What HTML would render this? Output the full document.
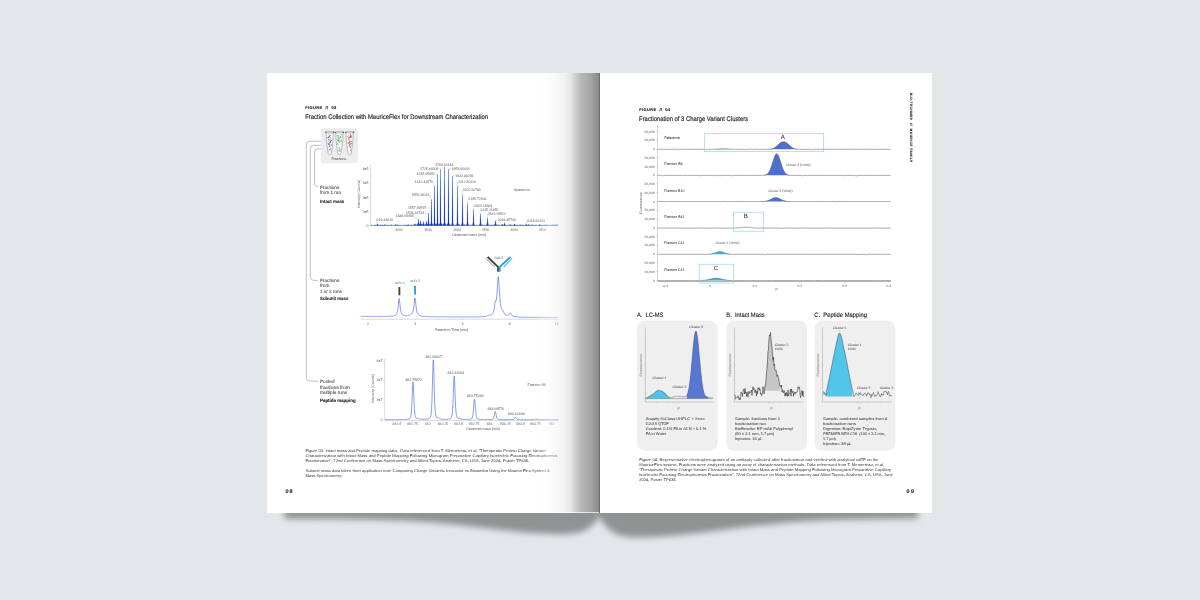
<!DOCTYPE html>
<html><head><meta charset="utf-8"><title>Spread</title>
<style>
html,body{margin:0;padding:0;background:#e4e7ea;}
body{width:1200px;height:600px;overflow:hidden;font-family:"Liberation Sans",sans-serif;}
svg{display:block;font-family:"Liberation Sans",sans-serif;}
</style></head><body>
<svg width="1200" height="600" viewBox="0 0 1200 600" text-rendering="geometricPrecision">
<g opacity="0.999">
<rect x="0" y="0" width="1200" height="600" fill="#e4e7ea"/>
<defs>
<filter id="blur" x="-10%" y="-50%" width="120%" height="200%"><feGaussianBlur stdDeviation="3"/></filter>
<linearGradient id="spine" x1="0" y1="0" x2="1" y2="0">
 <stop offset="0" stop-color="#000" stop-opacity="0.000"/>
 <stop offset="0.20" stop-color="#000" stop-opacity="0.016"/>
 <stop offset="0.40" stop-color="#000" stop-opacity="0.047"/>
 <stop offset="0.52" stop-color="#000" stop-opacity="0.106"/>
 <stop offset="0.60" stop-color="#000" stop-opacity="0.200"/>
 <stop offset="0.68" stop-color="#000" stop-opacity="0.278"/>
 <stop offset="0.85" stop-color="#000" stop-opacity="0.357"/>
 <stop offset="0.97" stop-color="#000" stop-opacity="0.451"/>
 <stop offset="1" stop-color="#000" stop-opacity="0.522"/>
</linearGradient>
</defs>
<g filter="url(#blur)" fill="#909294">
<path d="M284.5,495 L918,495 L918,518.5 C890,518.8 850,519.3 820,520.5 C780,522.5 740,527.5 700,533 C670,536.5 645,538 628,537 C614,535.5 605,528 599.3,516.5 C594,526 587,531 577,533 C562,535.5 540,534 520,532 C480,527.5 440,522 400,520.5 C350,519 300,519 284.5,519 Z"/>
</g>
<rect x="267" y="73" width="333" height="440" fill="#ffffff"/>
<rect x="600" y="73" width="332" height="440" fill="#ffffff"/>
<text x="305.30" y="108.90" font-size="4.0" fill="#1a1a1a" font-weight="bold" textLength="30.90" lengthAdjust="spacing" stroke="#1a1a1a" stroke-width="0.12">FIGURE  //  03</text>
<text x="305.20" y="118.80" font-size="6.7" fill="#1e1e1e" textLength="183.00" lengthAdjust="spacingAndGlyphs" stroke="#1e1e1e" stroke-width="0.16">Fraction Collection with MauriceFlex for Downstream Characterization</text>
<rect x="320.8" y="128.3" width="37.2" height="35" rx="3.2" fill="#ededed"/>
<path d="M326.15,132.3 L326.4,140.8 L328.09999999999997,153.60000000000002 Q329.7,156.4 331.3,153.60000000000002 L333.0,140.8 L333.25,132.3 Z" fill="#fdfdfd" stroke="#909090" stroke-width="0.6"/>
<ellipse cx="329.7" cy="132.3" rx="4.2" ry="0.85" fill="#dedede" stroke="#8a8a8a" stroke-width="0.4"/>
<ellipse cx="325.79999999999995" cy="132.3" rx="0.75" ry="0.6" fill="#555"/>
<ellipse cx="333.7" cy="132.20000000000002" rx="0.8" ry="0.65" fill="#444"/>
<path d="M328.32,140.08 l0.15,-0.60 M329.25,143.60 l-0.44,0.01 M329.43,135.32 l-0.43,-0.57 M330.89,141.75 l-0.38,-0.39 M331.06,145.12 l0.08,-0.14 M328.79,150.91 l0.36,-0.29 M328.13,137.09 l-0.19,0.44 M330.03,137.70 l0.14,-0.18 M328.27,143.79 l-0.44,-0.41 M329.49,145.99 l-0.19,0.12 M328.99,142.22 l0.29,0.28 M330.01,138.75 l0.03,0.53 M329.12,146.81 l0.48,-0.53 M330.64,141.64 l-0.35,-0.02 M330.39,135.35 l0.26,0.10 M329.27,149.23 l0.20,0.13 M329.56,144.33 l0.34,0.62 M330.27,142.57 l-0.44,0.28 M331.17,145.44 l0.32,-0.30 M330.33,141.10 l-0.48,-0.05 M328.13,137.49 l-0.44,0.38 M328.67,136.85 l-0.11,0.52 M329.49,136.04 l0.05,0.54 M330.60,148.30 l-0.22,-0.12 M331.18,140.66 l0.46,-0.49 M328.60,137.63 l-0.27,-0.02 M328.95,144.48 l-0.50,-0.11 M329.95,140.83 l0.45,0.27 M330.10,143.26 l0.18,-0.62 M330.33,149.63 l0.37,0.42 " fill="none" stroke="#4a4aae" stroke-width="0.75" stroke-linecap="round" opacity="0.85"/>
<path d="M335.84999999999997,132.3 L336.09999999999997,140.8 L337.79999999999995,153.60000000000002 Q339.4,156.4 341.0,153.60000000000002 L342.7,140.8 L342.95,132.3 Z" fill="#fdfdfd" stroke="#909090" stroke-width="0.6"/>
<ellipse cx="339.4" cy="132.3" rx="4.2" ry="0.85" fill="#dedede" stroke="#8a8a8a" stroke-width="0.4"/>
<ellipse cx="335.49999999999994" cy="132.3" rx="0.75" ry="0.6" fill="#555"/>
<ellipse cx="343.4" cy="132.20000000000002" rx="0.8" ry="0.65" fill="#444"/>
<path d="M339.02,141.21 l-0.40,0.19 M337.63,135.73 l-0.29,-0.47 M337.66,140.34 l-0.50,-0.49 M338.84,136.38 l-0.47,0.52 M338.32,144.89 l-0.25,-0.21 M337.96,140.75 l0.35,0.69 M339.34,142.44 l-0.41,-0.56 M338.49,140.39 l0.33,-0.47 M341.25,135.08 l0.03,-0.49 M337.84,143.72 l0.03,0.67 M339.86,149.03 l-0.24,-0.19 M340.51,137.47 l0.03,0.39 M338.31,140.17 l0.31,0.68 M340.13,148.85 l0.32,0.34 M339.47,138.46 l-0.14,-0.66 M338.50,135.16 l-0.24,0.27 M339.29,150.58 l0.44,0.68 M339.12,150.55 l-0.28,-0.38 M338.19,137.97 l0.12,0.56 M339.35,148.65 l0.15,0.42 M340.06,136.11 l0.41,0.40 M339.34,147.15 l-0.32,0.40 M340.58,140.22 l0.47,-0.15 M341.06,141.36 l0.22,-0.46 M337.97,136.81 l0.40,0.43 M340.74,137.13 l0.48,0.22 M339.59,140.52 l-0.37,-0.68 M339.70,150.82 l0.03,0.61 M340.75,141.90 l0.33,-0.40 M338.55,138.88 l-0.26,0.12 " fill="none" stroke="#3aa44a" stroke-width="0.75" stroke-linecap="round" opacity="0.85"/>
<path d="M346.05,132.3 L346.3,140.8 L348.0,153.60000000000002 Q349.6,156.4 351.20000000000005,153.60000000000002 L352.90000000000003,140.8 L353.15000000000003,132.3 Z" fill="#fdfdfd" stroke="#909090" stroke-width="0.6"/>
<ellipse cx="349.6" cy="132.3" rx="4.2" ry="0.85" fill="#dedede" stroke="#8a8a8a" stroke-width="0.4"/>
<ellipse cx="345.7" cy="132.3" rx="0.75" ry="0.6" fill="#555"/>
<ellipse cx="353.6" cy="132.20000000000002" rx="0.8" ry="0.65" fill="#444"/>
<path d="M349.27,139.01 l-0.37,0.57 M349.44,140.57 l0.08,0.57 M351.13,141.68 l0.00,0.04 M347.99,143.39 l-0.06,-0.44 M350.83,134.77 l-0.33,-0.04 M349.76,146.74 l-0.17,0.03 M350.53,143.92 l-0.39,0.08 M348.69,138.83 l0.27,0.01 M350.44,144.02 l0.41,-0.08 M349.62,144.87 l0.01,0.27 M349.72,142.21 l-0.02,0.62 M350.67,146.31 l0.44,-0.34 M351.04,143.99 l0.34,-0.51 M349.36,136.72 l-0.43,-0.36 M350.29,135.91 l0.28,0.56 M350.49,137.26 l0.16,-0.50 M350.67,149.36 l-0.28,0.63 M349.55,141.31 l0.49,0.47 M349.32,137.38 l0.02,-0.23 M348.86,137.95 l0.22,-0.67 M349.41,143.90 l-0.48,-0.24 M349.64,145.06 l-0.44,0.68 M350.81,147.79 l-0.40,-0.33 M350.74,135.36 l-0.23,-0.52 M351.10,141.71 l0.32,-0.34 M351.32,137.18 l0.07,0.28 M347.79,136.19 l0.19,-0.10 M351.40,135.90 l0.13,0.42 M351.06,136.09 l-0.43,0.51 M349.03,142.23 l0.05,0.60 " fill="none" stroke="#b63838" stroke-width="0.75" stroke-linecap="round" opacity="0.85"/>
<text x="338.90" y="159.60" font-size="3.5" fill="#6e6e6e" text-anchor="middle" textLength="15.00" lengthAdjust="spacingAndGlyphs" stroke="#6e6e6e" stroke-width="0.07">Fractions</text>
<g fill="none" stroke="#a4a4a4" stroke-width="0.7">
<path d="M320.8,141.3 L309.5,141.3 Q306.3,141.3 306.3,144.5 L306.3,377.6 Q306.3,381.2 310,381.2 L318.2,381.2"/>
<path d="M320.8,145.3 L313.5,145.3 Q310.3,145.3 310.3,148.5 L310.3,276.8 Q310.3,280.4 314,280.4 L317.6,280.4"/>
<path d="M320.8,148.9 L317.6,148.9 Q314.5,148.9 314.5,152 L314.5,183.4 Q314.5,186.6 317.4,186.6 L318.4,186.6"/>
</g>
<text x="320.00" y="188.70" font-size="4.7" fill="#4e4e4e" textLength="19.30" lengthAdjust="spacingAndGlyphs" stroke="#4e4e4e" stroke-width="0.1">Fractions</text>
<text x="320.00" y="193.80" font-size="4.7" fill="#4e4e4e" textLength="21.00" lengthAdjust="spacingAndGlyphs" stroke="#4e4e4e" stroke-width="0.1">from 1 run</text>
<text x="320.00" y="202.90" font-size="4.7" fill="#1c1c1c" font-weight="bold" textLength="24.30" lengthAdjust="spacingAndGlyphs" stroke="#1c1c1c" stroke-width="0.08">Intact mass</text>
<text x="320.00" y="281.90" font-size="4.7" fill="#4e4e4e" textLength="19.30" lengthAdjust="spacingAndGlyphs" stroke="#4e4e4e" stroke-width="0.1">Fractions</text>
<text x="320.00" y="287.30" font-size="4.7" fill="#4e4e4e" textLength="9.30" lengthAdjust="spacingAndGlyphs" stroke="#4e4e4e" stroke-width="0.1">from</text>
<text x="320.00" y="292.70" font-size="4.7" fill="#4e4e4e" textLength="21.80" lengthAdjust="spacingAndGlyphs" stroke="#4e4e4e" stroke-width="0.1">1 or 2 runs</text>
<text x="320.00" y="300.40" font-size="4.7" fill="#1c1c1c" font-weight="bold" textLength="28.30" lengthAdjust="spacingAndGlyphs" stroke="#1c1c1c" stroke-width="0.08">Subunit mass</text>
<text x="320.00" y="382.80" font-size="4.7" fill="#4e4e4e" textLength="14.50" lengthAdjust="spacingAndGlyphs" stroke="#4e4e4e" stroke-width="0.1">Pooled</text>
<text x="320.00" y="388.50" font-size="4.7" fill="#4e4e4e" textLength="29.80" lengthAdjust="spacingAndGlyphs" stroke="#4e4e4e" stroke-width="0.1">fractions from</text>
<text x="320.00" y="393.80" font-size="4.7" fill="#4e4e4e" textLength="27.00" lengthAdjust="spacingAndGlyphs" stroke="#4e4e4e" stroke-width="0.1">multiple runs</text>
<text x="320.00" y="401.60" font-size="4.7" fill="#1c1c1c" font-weight="bold" textLength="35.60" lengthAdjust="spacingAndGlyphs" stroke="#1c1c1c" stroke-width="0.08">Peptide mapping</text>
<defs><linearGradient id="pk" x1="0" y1="0" x2="0" y2="1"><stop offset="0" stop-color="#86a4ec"/><stop offset="0.45" stop-color="#3f63d8"/><stop offset="1" stop-color="#0f2fb8"/></linearGradient></defs>
<path d="M370.7,164.3 L370.7,225.4" stroke="#b4b4b4" stroke-width="0.5" fill="none"/>
<path d="M369.5,169.0 L370.7,169.0" stroke="#b4b4b4" stroke-width="0.4"/>
<text x="368.50" y="170.10" font-size="3.5" fill="#808080" text-anchor="end" stroke="#808080" stroke-width="0.07">8e5</text>
<path d="M369.5,183.3 L370.7,183.3" stroke="#b4b4b4" stroke-width="0.4"/>
<text x="368.50" y="184.40" font-size="3.5" fill="#808080" text-anchor="end" stroke="#808080" stroke-width="0.07">6e5</text>
<path d="M369.5,198.0 L370.7,198.0" stroke="#b4b4b4" stroke-width="0.4"/>
<text x="368.50" y="199.10" font-size="3.5" fill="#808080" text-anchor="end" stroke="#808080" stroke-width="0.07">4e5</text>
<path d="M369.5,212.0 L370.7,212.0" stroke="#b4b4b4" stroke-width="0.4"/>
<text x="368.50" y="213.10" font-size="3.5" fill="#808080" text-anchor="end" stroke="#808080" stroke-width="0.07">2e5</text>
<path d="M369.5,225.4 L370.7,225.4" stroke="#b4b4b4" stroke-width="0.4"/>
<text x="368.50" y="226.50" font-size="3.5" fill="#808080" text-anchor="end" stroke="#808080" stroke-width="0.07">0</text>
<text x="359.80" y="194.00" font-size="3.5" fill="#808080" text-anchor="middle" textLength="28.60" lengthAdjust="spacingAndGlyphs" transform="rotate(-90 359.80 194.00)" stroke="#808080" stroke-width="0.07">Intensity [Counts]</text>
<text x="399.00" y="231.40" font-size="3.5" fill="#808080" text-anchor="middle" textLength="7.60" lengthAdjust="spacingAndGlyphs" stroke="#808080" stroke-width="0.07">1000</text>
<text x="428.00" y="231.40" font-size="3.5" fill="#808080" text-anchor="middle" textLength="7.60" lengthAdjust="spacingAndGlyphs" stroke="#808080" stroke-width="0.07">1500</text>
<text x="457.00" y="231.40" font-size="3.5" fill="#808080" text-anchor="middle" textLength="7.60" lengthAdjust="spacingAndGlyphs" stroke="#808080" stroke-width="0.07">2000</text>
<text x="485.70" y="231.40" font-size="3.5" fill="#808080" text-anchor="middle" textLength="7.60" lengthAdjust="spacingAndGlyphs" stroke="#808080" stroke-width="0.07">2500</text>
<text x="514.20" y="231.40" font-size="3.5" fill="#808080" text-anchor="middle" textLength="7.60" lengthAdjust="spacingAndGlyphs" stroke="#808080" stroke-width="0.07">3000</text>
<text x="542.70" y="231.40" font-size="3.5" fill="#808080" text-anchor="middle" textLength="7.60" lengthAdjust="spacingAndGlyphs" stroke="#808080" stroke-width="0.07">3500</text>
<text x="469.00" y="235.50" font-size="3.5" fill="#808080" text-anchor="middle" textLength="34.00" lengthAdjust="spacingAndGlyphs" stroke="#808080" stroke-width="0.07">Observed mass [m/z]</text>
<text x="514.00" y="191.40" font-size="3.5" fill="#808080" textLength="15.70" lengthAdjust="spacingAndGlyphs" stroke="#808080" stroke-width="0.07">Spectrum</text>
<path d="M370.7,225.4 L370.70,225.38 L371.15,225.40 L371.60,225.27 L372.05,225.39 L372.50,225.40 L372.95,225.40 L373.40,225.40 L373.85,225.39 L374.30,225.37 L374.75,225.37 L375.20,225.01 L375.65,225.38 L376.10,225.29 L376.55,225.39 L377.00,225.36 L377.45,225.40 L377.90,225.39 L378.35,225.40 L378.80,225.05 L379.25,225.25 L379.70,225.39 L380.15,225.30 L380.60,224.67 L381.05,225.40 L381.50,224.91 L381.95,225.33 L382.40,225.29 L382.85,224.88 L383.30,225.35 L383.75,225.28 L384.20,225.11 L384.65,224.55 L385.10,225.36 L385.55,224.88 L386.00,225.08 L386.45,225.17 L386.90,225.34 L387.35,225.36 L387.80,225.40 L388.25,225.40 L388.70,225.40 L389.15,225.03 L389.60,225.38 L390.05,225.40 L390.50,225.40 L390.95,224.86 L391.40,224.81 L391.85,225.13 L392.30,225.38 L392.75,225.39 L393.20,225.38 L393.65,225.31 L394.10,225.40 L394.55,225.32 L395.00,225.38 L395.45,224.60 L395.90,224.57 L396.35,225.25 L396.80,225.39 L397.25,224.59 L397.70,225.37 L398.15,225.36 L398.60,225.40 L399.05,225.35 L399.50,225.30 L399.95,225.29 L400.40,225.39 L400.85,225.28 L401.30,225.40 L401.75,225.38 L402.20,225.40 L402.65,225.34 L403.10,225.40 L403.55,225.40 L404.00,225.37 L404.45,225.39 L404.90,225.22 L405.35,225.27 L405.80,225.02 L406.25,225.14 L406.70,225.07 L407.15,224.79 L407.60,225.35 L408.05,225.37 L408.50,224.54 L408.95,225.40 L409.40,225.06 L409.85,225.16 L410.30,225.40 L410.75,224.88 L411.20,224.76 L411.65,225.18 L412.10,225.04 L412.55,224.92 L413.00,225.40 L413.45,225.27 L413.90,225.28 L414.35,223.91 L414.80,224.19 L415.25,223.94 L415.70,224.82 L416.15,225.24 L416.60,225.23 L417.05,224.20 L417.50,224.43 L417.95,224.53 L418.40,224.44 L418.85,224.42 L419.30,224.47 L419.75,224.52 L420.20,225.30 L420.65,224.51 L421.10,224.50 L421.55,223.97 L422.00,224.77 L422.45,224.19 L422.90,224.42 L423.35,225.22 L423.80,224.49 L424.25,224.69 L424.70,225.33 L425.15,224.58 L425.60,224.29 L426.05,224.76 L426.50,224.75 L426.95,224.33 L427.40,224.22 L427.85,224.64 L428.30,224.33 L428.75,224.04 L429.20,225.13 L429.65,224.39 L430.10,225.05 L430.55,224.13 L431.00,224.41 L431.45,224.22 L431.90,224.81 L432.35,224.17 L432.80,225.40 L433.25,224.75 L433.70,225.21 L434.15,224.98 L434.60,224.86 L435.05,224.01 L435.50,224.29 L435.95,223.99 L436.40,224.93 L436.85,224.15 L437.30,224.78 L437.75,225.00 L438.20,225.28 L438.65,224.53 L439.10,224.36 L439.55,224.77 L440.00,224.95 L440.45,223.55 L440.90,224.16 L441.35,223.59 L441.80,224.39 L442.25,224.52 L442.70,224.41 L443.15,224.82 L443.60,224.29 L444.05,224.83 L444.50,225.01 L444.95,223.87 L445.40,224.60 L445.85,224.71 L446.30,225.14 L446.75,225.15 L447.20,224.13 L447.65,224.30 L448.10,223.97 L448.55,225.17 L449.00,224.99 L449.45,225.11 L449.90,224.70 L450.35,224.77 L450.80,225.02 L451.25,225.34 L451.70,225.34 L452.15,225.27 L452.60,225.35 L453.05,225.37 L453.50,225.40 L453.95,225.38 L454.40,224.58 L454.85,225.40 L455.30,225.29 L455.75,225.18 L456.20,224.82 L456.65,225.39 L457.10,225.38 L457.55,225.39 L458.00,225.34 L458.45,225.32 L458.90,224.62 L459.35,224.85 L459.80,224.80 L460.25,225.40 L460.70,225.40 L461.15,225.08 L461.60,224.75 L462.05,225.30 L462.50,225.22 L462.95,225.40 L463.40,225.35 L463.85,224.68 L464.30,224.89 L464.75,224.84 L465.20,224.57 L465.65,225.39 L466.10,225.40 L466.55,225.40 L467.00,225.27 L467.45,225.11 L467.90,224.65 L468.35,225.06 L468.80,225.16 L469.25,225.00 L469.70,225.31 L470.15,225.25 L470.60,225.40 L471.05,224.97 L471.50,225.39 L471.95,224.70 L472.40,225.16 L472.85,225.37 L473.30,225.40 L473.75,225.39 L474.20,225.17 L474.65,225.09 L475.10,225.40 L475.55,225.40 L476.00,225.27 L476.45,225.22 L476.90,225.35 L477.35,225.39 L477.80,225.20 L478.25,225.40 L478.70,225.38 L479.15,225.31 L479.60,224.61 L480.05,225.16 L480.50,224.78 L480.95,225.30 L481.40,225.39 L481.85,225.39 L482.30,224.60 L482.75,225.09 L483.20,225.37 L483.65,225.40 L484.10,225.29 L484.55,225.12 L485.00,225.33 L485.45,225.38 L485.90,225.13 L486.35,224.69 L486.80,225.39 L487.25,225.40 L487.70,225.37 L488.15,225.33 L488.60,225.11 L489.05,225.39 L489.50,224.94 L489.95,225.04 L490.40,225.28 L490.85,225.39 L491.30,224.58 L491.75,225.37 L492.20,224.90 L492.65,225.39 L493.10,225.39 L493.55,225.00 L494.00,225.38 L494.45,224.62 L494.90,225.29 L495.35,225.39 L495.80,225.39 L496.25,225.33 L496.70,225.13 L497.15,224.63 L497.60,225.40 L498.05,225.35 L498.50,225.39 L498.95,224.57 L499.40,225.40 L499.85,225.40 L500.30,225.40 L500.75,225.35 L501.20,224.75 L501.65,224.78 L502.10,225.05 L502.55,224.51 L503.00,224.67 L503.45,225.37 L503.90,225.39 L504.35,224.66 L504.80,225.03 L505.25,225.40 L505.70,225.14 L506.15,225.35 L506.60,225.35 L507.05,225.37 L507.50,225.40 L507.95,225.40 L508.40,225.38 L508.85,225.36 L509.30,224.61 L509.75,225.40 L510.20,224.59 L510.65,225.39 L511.10,225.36 L511.55,224.90 L512.00,224.90 L512.45,225.33 L512.90,225.40 L513.35,225.30 L513.80,225.35 L514.25,224.70 L514.70,225.39 L515.15,225.36 L515.60,224.75 L516.05,225.40 L516.50,225.34 L516.95,224.92 L517.40,224.99 L517.85,225.40 L518.30,225.40 L518.75,225.40 L519.20,224.70 L519.65,225.38 L520.10,225.02 L520.55,224.75 L521.00,225.36 L521.45,225.38 L521.90,224.61 L522.35,225.19 L522.80,225.38 L523.25,225.07 L523.70,225.37 L524.15,225.38 L524.60,225.40 L525.05,225.01 L525.50,224.71 L525.95,225.17 L526.40,224.64 L526.85,225.40 L527.30,225.39 L527.75,225.30 L528.20,224.61 L528.65,224.62 L529.10,225.35 L529.55,225.39 L530.00,225.33 L530.45,225.29 L530.90,224.68 L531.35,225.39 L531.80,224.93 L532.25,225.04 L532.70,224.90 L533.15,224.98 L533.60,225.20 L534.05,225.37 L534.50,225.37 L534.95,225.36 L535.40,224.97 L535.85,225.40 L536.30,225.39 L536.75,225.02 L537.20,225.39 L537.65,225.40 L538.10,225.40 L538.55,225.25 L539.00,225.37 L539.45,224.55 L539.90,224.78 L540.35,224.53 L540.80,225.38 L541.25,225.40 L541.70,225.40 L542.15,225.29 L542.60,225.08 L543.05,225.32 L543.50,225.39 L543.95,225.33 L544.40,225.19 L544.85,225.12 L545.30,225.02 L545.75,224.85 L546.20,225.14 L546.65,225.40 L547.10,224.86 L547.55,225.38 L548.00,225.24 L548.45,225.35 L548.90,225.04 L549.35,225.39 L549.80,225.39 L550.25,225.39 L550.70,225.40 L551.15,224.78 L551.60,225.23 L552.05,225.37 L552.50,225.34 L552.95,224.52 L553.40,225.28 L553.85,225.39 L554.30,224.92 L554.75,225.15 L555.20,224.52 L555.65,225.40 L556.10,225.30 L556.55,224.91 L557.00,224.87 L557.45,224.71 L557.90,225.40 L558,225.4 Z" fill="#1f42c4" stroke="#1f42c4" stroke-width="0.35"/>
<path d="M417.42,225.4 L417.90,222.40 L418.00,219.00 L419.00,219.00 L419.10,222.40 L419.58,225.4 Z" fill="url(#pk)"/>
<path d="M419.54,225.4 L419.90,222.95 L420.00,220.50 L421.00,220.50 L421.10,222.95 L421.46,225.4 Z" fill="url(#pk)"/>
<path d="M422.54,225.4 L422.90,223.45 L423.00,221.50 L424.00,221.50 L424.10,223.45 L424.46,225.4 Z" fill="url(#pk)"/>
<path d="M425.54,225.4 L425.90,223.20 L426.00,221.00 L427.00,221.00 L427.10,223.20 L427.46,225.4 Z" fill="url(#pk)"/>
<path d="M427.54,225.4 L427.90,222.40 L428.00,213.00 L429.00,213.00 L429.10,222.40 L429.46,225.4 Z" fill="url(#pk)"/>
<path d="M430.36,225.4 L430.90,222.40 L431.00,199.30 L432.00,199.30 L432.10,222.40 L432.64,225.4 Z" fill="url(#pk)"/>
<path d="M433.30,225.4 L433.90,222.40 L434.00,186.00 L435.00,186.00 L435.10,222.40 L435.70,225.4 Z" fill="url(#pk)"/>
<path d="M436.30,225.4 L436.90,222.40 L437.00,174.30 L438.00,174.30 L438.10,222.40 L438.70,225.4 Z" fill="url(#pk)"/>
<path d="M439.30,225.4 L439.90,222.40 L440.00,169.00 L441.00,169.00 L441.10,222.40 L441.70,225.4 Z" fill="url(#pk)"/>
<path d="M443.24,225.4 L443.90,222.40 L444.00,166.70 L445.00,166.70 L445.10,222.40 L445.76,225.4 Z" fill="url(#pk)"/>
<path d="M447.24,225.4 L447.90,222.40 L448.00,169.00 L449.00,169.00 L449.10,222.40 L449.76,225.4 Z" fill="url(#pk)"/>
<path d="M451.36,225.4 L451.90,222.40 L452.00,176.00 L453.00,176.00 L453.10,222.40 L453.64,225.4 Z" fill="url(#pk)"/>
<path d="M456.36,225.4 L456.90,222.40 L457.00,186.00 L458.00,186.00 L458.10,222.40 L458.64,225.4 Z" fill="url(#pk)"/>
<path d="M461.36,225.4 L461.90,222.40 L462.00,194.70 L463.00,194.70 L463.10,222.40 L463.64,225.4 Z" fill="url(#pk)"/>
<path d="M466.42,225.4 L466.90,222.40 L467.00,203.00 L468.00,203.00 L468.10,222.40 L468.58,225.4 Z" fill="url(#pk)"/>
<path d="M472.42,225.4 L472.90,222.40 L473.00,209.40 L474.00,209.40 L474.10,222.40 L474.58,225.4 Z" fill="url(#pk)"/>
<path d="M479.48,225.4 L479.90,222.40 L480.00,213.70 L481.00,213.70 L481.10,222.40 L481.52,225.4 Z" fill="url(#pk)"/>
<path d="M486.48,225.4 L486.90,222.40 L487.00,217.70 L488.00,217.70 L488.10,222.40 L488.52,225.4 Z" fill="url(#pk)"/>
<path d="M494.48,225.4 L494.90,223.00 L495.00,220.60 L496.00,220.60 L496.10,223.00 L496.52,225.4 Z" fill="url(#pk)"/>
<path d="M503.54,225.4 L503.90,224.10 L504.00,222.80 L505.00,222.80 L505.10,224.10 L505.46,225.4 Z" fill="url(#pk)"/>
<path d="M513.54,225.4 L513.90,224.65 L514.00,223.90 L515.00,223.90 L515.10,224.65 L515.46,225.4 Z" fill="url(#pk)"/>
<path d="M525.54,225.4 L525.90,224.80 L526.00,224.20 L527.00,224.20 L527.10,224.80 L527.46,225.4 Z" fill="url(#pk)"/>
<path d="M538.66,225.4 L538.90,225.00 L539.00,224.60 L540.00,224.60 L540.10,225.00 L540.34,225.4 Z" fill="url(#pk)"/>
<path d="M553.66,225.4 L553.90,225.10 L554.00,224.80 L555.00,224.80 L555.10,225.10 L555.34,225.4 Z" fill="url(#pk)"/>
<path d="M376.78,225.4 L376.90,224.45 L377.00,223.50 L378.00,223.50 L378.10,224.45 L378.22,225.4 Z" fill="url(#pk)"/>
<text x="444.30" y="166.10" font-size="3.5" fill="#808080" text-anchor="middle" textLength="18.20" lengthAdjust="spacingAndGlyphs" stroke="#808080" stroke-width="0.07">1789.32148</text>
<text x="438.30" y="169.80" font-size="3.5" fill="#808080" text-anchor="end" textLength="18.20" lengthAdjust="spacingAndGlyphs" stroke="#808080" stroke-width="0.07">1725.44009</text>
<path d="M438.6,168.7 L440.4,168.9" stroke="#a8a8a8" stroke-width="0.35" fill="none"/>
<text x="451.70" y="169.80" font-size="3.5" fill="#808080" textLength="18.20" lengthAdjust="spacingAndGlyphs" stroke="#808080" stroke-width="0.07">1858.06641</text>
<path d="M451.4,168.7 L448.6,168.9" stroke="#a8a8a8" stroke-width="0.35" fill="none"/>
<text x="435.00" y="175.10" font-size="3.5" fill="#808080" text-anchor="end" textLength="18.20" lengthAdjust="spacingAndGlyphs" stroke="#808080" stroke-width="0.07">1665.95856</text>
<path d="M435.3,174.0 L437.1,174.2" stroke="#a8a8a8" stroke-width="0.35" fill="none"/>
<text x="455.30" y="177.10" font-size="3.5" fill="#808080" textLength="18.20" lengthAdjust="spacingAndGlyphs" stroke="#808080" stroke-width="0.07">1932.33209</text>
<path d="M455.0,176.0 L452.9,176.0" stroke="#a8a8a8" stroke-width="0.35" fill="none"/>
<text x="433.00" y="183.40" font-size="3.5" fill="#808080" text-anchor="end" textLength="18.20" lengthAdjust="spacingAndGlyphs" stroke="#808080" stroke-width="0.07">1610.42570</text>
<path d="M433.3,182.3 L434.0,186.0" stroke="#a8a8a8" stroke-width="0.35" fill="none"/>
<text x="458.00" y="182.80" font-size="3.5" fill="#808080" textLength="18.20" lengthAdjust="spacingAndGlyphs" stroke="#808080" stroke-width="0.07">2012.80620</text>
<path d="M457.7,181.7 L457.5,186.0" stroke="#a8a8a8" stroke-width="0.35" fill="none"/>
<text x="429.70" y="196.10" font-size="3.5" fill="#808080" text-anchor="end" textLength="18.20" lengthAdjust="spacingAndGlyphs" stroke="#808080" stroke-width="0.07">1558.48241</text>
<path d="M430.0,195.0 L431.0,199.3" stroke="#a8a8a8" stroke-width="0.35" fill="none"/>
<text x="462.70" y="191.40" font-size="3.5" fill="#808080" textLength="18.20" lengthAdjust="spacingAndGlyphs" stroke="#808080" stroke-width="0.07">2100.26736</text>
<path d="M462.4,190.3 L462.1,194.7" stroke="#a8a8a8" stroke-width="0.35" fill="none"/>
<text x="468.30" y="199.70" font-size="3.5" fill="#808080" textLength="18.20" lengthAdjust="spacingAndGlyphs" stroke="#808080" stroke-width="0.07">2195.72803</text>
<path d="M468.0,198.6 L467.8,203.0" stroke="#a8a8a8" stroke-width="0.35" fill="none"/>
<text x="474.00" y="206.50" font-size="3.5" fill="#808080" textLength="18.20" lengthAdjust="spacingAndGlyphs" stroke="#808080" stroke-width="0.07">2300.23969</text>
<path d="M473.7,205.4 L473.5,209.4" stroke="#a8a8a8" stroke-width="0.35" fill="none"/>
<text x="480.30" y="210.80" font-size="3.5" fill="#808080" textLength="18.20" lengthAdjust="spacingAndGlyphs" stroke="#808080" stroke-width="0.07">2415.21850</text>
<path d="M480.0,209.7 L480.3,213.7" stroke="#a8a8a8" stroke-width="0.35" fill="none"/>
<text x="487.70" y="214.80" font-size="3.5" fill="#808080" textLength="18.20" lengthAdjust="spacingAndGlyphs" stroke="#808080" stroke-width="0.07">2542.19512</text>
<path d="M487.4,213.7 L487.4,217.7" stroke="#a8a8a8" stroke-width="0.35" fill="none"/>
<text x="497.70" y="221.40" font-size="3.5" fill="#808080" textLength="18.20" lengthAdjust="spacingAndGlyphs" stroke="#808080" stroke-width="0.07">2683.45743</text>
<path d="M497.4,220.3 L495.6,220.6" stroke="#a8a8a8" stroke-width="0.35" fill="none"/>
<text x="527.00" y="221.80" font-size="3.5" fill="#808080" textLength="18.20" lengthAdjust="spacingAndGlyphs" stroke="#808080" stroke-width="0.07">3218.94693</text>
<path d="M526.7,220.7 L526.4,224.0" stroke="#a8a8a8" stroke-width="0.35" fill="none"/>
<text x="426.30" y="209.10" font-size="3.5" fill="#808080" text-anchor="end" textLength="18.20" lengthAdjust="spacingAndGlyphs" stroke="#808080" stroke-width="0.07">1557.99797</text>
<path d="M426.6,208.0 L430.4,208.0" stroke="#a8a8a8" stroke-width="0.35" fill="none"/>
<text x="424.30" y="213.70" font-size="3.5" fill="#808080" text-anchor="end" textLength="18.20" lengthAdjust="spacingAndGlyphs" stroke="#808080" stroke-width="0.07">1506.36734</text>
<path d="M424.6,212.6 L428.0,214.5" stroke="#a8a8a8" stroke-width="0.35" fill="none"/>
<text x="413.70" y="217.40" font-size="3.5" fill="#808080" text-anchor="end" textLength="18.20" lengthAdjust="spacingAndGlyphs" stroke="#808080" stroke-width="0.07">1338.09495</text>
<path d="M414.0,216.3 L418.0,219.5" stroke="#a8a8a8" stroke-width="0.35" fill="none"/>
<text x="376.60" y="221.40" font-size="3.5" fill="#808080" textLength="16.60" lengthAdjust="spacingAndGlyphs" stroke="#808080" stroke-width="0.07">619.44010</text>
<path d="M376.3,220.3 L377.0,223.6" stroke="#a8a8a8" stroke-width="0.35" fill="none"/>
<path d="M360.8,319.2 L557.5,319.2" stroke="#b4b4b4" stroke-width="0.5"/>
<path d="M368.00,319.2 L368.00,320.4" stroke="#b4b4b4" stroke-width="0.4"/>
<path d="M379.82,319.2 L379.82,319.9" stroke="#b4b4b4" stroke-width="0.4"/>
<path d="M391.64,319.2 L391.64,319.9" stroke="#b4b4b4" stroke-width="0.4"/>
<path d="M403.46,319.2 L403.46,319.9" stroke="#b4b4b4" stroke-width="0.4"/>
<path d="M415.28,319.2 L415.28,320.4" stroke="#b4b4b4" stroke-width="0.4"/>
<path d="M427.10,319.2 L427.10,319.9" stroke="#b4b4b4" stroke-width="0.4"/>
<path d="M438.92,319.2 L438.92,319.9" stroke="#b4b4b4" stroke-width="0.4"/>
<path d="M450.74,319.2 L450.74,319.9" stroke="#b4b4b4" stroke-width="0.4"/>
<path d="M462.56,319.2 L462.56,320.4" stroke="#b4b4b4" stroke-width="0.4"/>
<path d="M474.38,319.2 L474.38,319.9" stroke="#b4b4b4" stroke-width="0.4"/>
<path d="M486.20,319.2 L486.20,319.9" stroke="#b4b4b4" stroke-width="0.4"/>
<path d="M498.02,319.2 L498.02,319.9" stroke="#b4b4b4" stroke-width="0.4"/>
<path d="M509.84,319.2 L509.84,320.4" stroke="#b4b4b4" stroke-width="0.4"/>
<path d="M521.66,319.2 L521.66,319.9" stroke="#b4b4b4" stroke-width="0.4"/>
<path d="M533.48,319.2 L533.48,319.9" stroke="#b4b4b4" stroke-width="0.4"/>
<path d="M545.30,319.2 L545.30,319.9" stroke="#b4b4b4" stroke-width="0.4"/>
<path d="M557.12,319.2 L557.12,320.4" stroke="#b4b4b4" stroke-width="0.4"/>
<text x="368.00" y="324.90" font-size="3.5" fill="#808080" text-anchor="middle" stroke="#808080" stroke-width="0.07">2</text>
<text x="415.30" y="324.90" font-size="3.5" fill="#808080" text-anchor="middle" stroke="#808080" stroke-width="0.07">4</text>
<text x="462.80" y="324.90" font-size="3.5" fill="#808080" text-anchor="middle" stroke="#808080" stroke-width="0.07">6</text>
<text x="509.80" y="324.90" font-size="3.5" fill="#808080" text-anchor="middle" stroke="#808080" stroke-width="0.07">8</text>
<text x="556.80" y="324.90" font-size="3.5" fill="#808080" text-anchor="middle" stroke="#808080" stroke-width="0.07">10</text>
<text x="451.50" y="330.60" font-size="3.5" fill="#808080" text-anchor="middle" textLength="33.00" lengthAdjust="spacingAndGlyphs" stroke="#808080" stroke-width="0.07">Retention Time [min]</text>
<path d="M360.80,316.29 L361.20,316.24 L361.60,316.26 L362.00,316.35 L362.40,316.45 L362.80,316.52 L363.20,316.51 L363.60,316.43 L364.00,316.33 L364.40,316.26 L364.80,316.26 L365.20,316.34 L365.60,316.44 L366.00,316.52 L366.40,316.53 L366.80,316.47 L367.20,316.37 L367.60,316.28 L368.00,316.27 L368.40,316.33 L368.80,316.43 L369.20,316.52 L369.60,316.55 L370.00,316.50 L370.40,316.41 L370.80,316.31 L371.20,316.28 L371.60,316.32 L372.00,316.41 L372.40,316.51 L372.80,316.56 L373.20,316.53 L373.60,316.45 L374.00,316.35 L374.40,316.29 L374.80,316.31 L375.20,316.39 L375.60,316.50 L376.00,316.56 L376.40,316.56 L376.80,316.48 L377.20,316.38 L377.60,316.30 L378.00,316.30 L378.40,316.37 L378.80,316.47 L379.20,316.55 L379.60,316.57 L380.00,316.51 L380.40,316.41 L380.80,316.32 L381.20,316.29 L381.60,316.34 L382.00,316.44 L382.40,316.53 L382.80,316.56 L383.20,316.52 L383.60,316.42 L384.00,316.32 L384.40,316.28 L384.80,316.30 L385.20,316.39 L385.60,316.49 L386.00,316.54 L386.40,316.51 L386.80,316.41 L387.20,316.30 L387.60,316.23 L388.00,316.24 L388.40,316.31 L388.80,316.40 L389.20,316.45 L389.60,316.44 L390.00,316.35 L390.40,316.22 L390.80,316.12 L391.20,316.08 L391.60,316.12 L392.00,316.18 L392.40,316.22 L392.80,316.19 L393.20,316.07 L393.60,315.89 L394.00,315.70 L394.40,315.55 L394.80,315.45 L395.20,315.35 L395.60,315.19 L396.00,314.89 L396.40,314.37 L396.80,313.59 L397.20,312.48 L397.60,310.87 L398.00,308.47 L398.40,304.92 L398.80,300.61 L399.20,298.35 L399.60,300.65 L400.00,304.96 L400.40,308.50 L400.80,310.85 L401.20,312.41 L401.60,313.49 L402.00,314.27 L402.40,314.81 L402.80,315.15 L403.20,315.32 L403.60,315.40 L404.00,315.45 L404.40,315.54 L404.80,315.67 L405.20,315.83 L405.60,315.95 L406.00,316.00 L406.40,315.95 L406.80,315.85 L407.20,315.73 L407.60,315.66 L408.00,315.63 L408.40,315.64 L408.80,315.61 L409.20,315.47 L409.60,315.18 L410.00,314.75 L410.40,314.25 L410.80,313.88 L411.20,313.76 L411.60,313.75 L412.00,313.61 L412.40,313.18 L412.80,312.32 L413.20,310.90 L413.60,308.71 L414.00,305.52 L414.40,301.44 L414.80,298.03 L415.20,298.16 L415.60,301.76 L416.00,305.90 L416.40,309.02 L416.80,311.07 L417.20,312.43 L417.60,313.39 L418.00,314.13 L418.40,314.72 L418.80,315.17 L419.20,315.48 L419.60,315.65 L420.00,315.72 L420.40,315.76 L420.80,315.83 L421.20,315.96 L421.60,316.13 L422.00,316.29 L422.40,316.40 L422.80,316.42 L423.20,316.37 L423.60,316.31 L424.00,316.28 L424.40,316.33 L424.80,316.44 L425.20,316.56 L425.60,316.65 L426.00,316.66 L426.40,316.60 L426.80,316.52 L427.20,316.46 L427.60,316.47 L428.00,316.55 L428.40,316.66 L428.80,316.75 L429.20,316.78 L429.60,316.73 L430.00,316.64 L430.40,316.56 L430.80,316.54 L431.20,316.60 L431.60,316.71 L432.00,316.81 L432.40,316.85 L432.80,316.81 L433.20,316.72 L433.60,316.63 L434.00,316.59 L434.40,316.63 L434.80,316.73 L435.20,316.83 L435.60,316.89 L436.00,316.87 L436.40,316.79 L436.80,316.69 L437.20,316.64 L437.60,316.65 L438.00,316.73 L438.40,316.84 L438.80,316.92 L439.20,316.92 L439.60,316.85 L440.00,316.75 L440.40,316.68 L440.80,316.67 L441.20,316.74 L441.60,316.84 L442.00,316.93 L442.40,316.96 L442.80,316.90 L443.20,316.81 L443.60,316.72 L444.00,316.69 L444.40,316.74 L444.80,316.84 L445.20,316.94 L445.60,316.98 L446.00,316.95 L446.40,316.86 L446.80,316.76 L447.20,316.71 L447.60,316.74 L448.00,316.83 L448.40,316.94 L448.80,317.00 L449.20,316.99 L449.60,316.91 L450.00,316.80 L450.40,316.74 L450.80,316.75 L451.20,316.83 L451.60,316.93 L452.00,317.01 L452.40,317.02 L452.80,316.95 L453.20,316.85 L453.60,316.77 L454.00,316.75 L454.40,316.82 L454.80,316.92 L455.20,317.01 L455.60,317.04 L456.00,316.99 L456.40,316.89 L456.80,316.80 L457.20,316.77 L457.60,316.81 L458.00,316.91 L458.40,317.00 L458.80,317.05 L459.20,317.02 L459.60,316.93 L460.00,316.83 L460.40,316.78 L460.80,316.80 L461.20,316.89 L461.60,316.99 L462.00,317.06 L462.40,317.05 L462.80,316.97 L463.20,316.86 L463.60,316.79 L464.00,316.80 L464.40,316.87 L464.80,316.97 L465.20,317.05 L465.60,317.06 L466.00,317.00 L466.40,316.90 L466.80,316.81 L467.20,316.79 L467.60,316.84 L468.00,316.94 L468.40,317.04 L468.80,317.07 L469.20,317.02 L469.60,316.92 L470.00,316.82 L470.40,316.78 L470.80,316.82 L471.20,316.91 L471.60,317.01 L472.00,317.05 L472.40,317.03 L472.80,316.94 L473.20,316.83 L473.60,316.77 L474.00,316.78 L474.40,316.86 L474.80,316.96 L475.20,317.02 L475.60,317.01 L476.00,316.93 L476.40,316.82 L476.80,316.74 L477.20,316.73 L477.60,316.79 L478.00,316.89 L478.40,316.96 L478.80,316.97 L479.20,316.90 L479.60,316.79 L480.00,316.69 L480.40,316.65 L480.80,316.68 L481.20,316.77 L481.60,316.84 L482.00,316.86 L482.40,316.80 L482.80,316.68 L483.20,316.56 L483.60,316.48 L484.00,316.48 L484.40,316.53 L484.80,316.59 L485.20,316.60 L485.60,316.52 L486.00,316.36 L486.40,316.17 L486.80,316.00 L487.20,315.87 L487.60,315.78 L488.00,315.68 L488.40,315.52 L488.80,315.33 L489.20,315.16 L489.60,315.05 L490.00,314.99 L490.40,314.97 L490.80,314.96 L491.20,314.93 L491.60,314.81 L492.00,314.54 L492.40,314.10 L492.80,313.48 L493.20,312.68 L493.60,311.61 L494.00,310.09 L494.40,307.69 L494.80,304.08 L495.20,301.00 L495.60,300.99 L496.00,301.17 L496.40,299.44 L496.80,295.75 L497.20,290.25 L497.60,283.61 L498.00,277.99 L498.40,276.71 L498.80,280.82 L499.20,287.62 L499.60,294.20 L500.00,299.40 L500.40,303.22 L500.80,305.95 L501.20,307.84 L501.60,309.03 L502.00,309.64 L502.40,309.89 L502.80,310.21 L503.20,310.93 L503.60,311.90 L504.00,312.86 L504.40,313.67 L504.80,314.28 L505.20,314.69 L505.60,314.92 L506.00,315.03 L506.40,315.07 L506.80,315.12 L507.20,315.18 L507.60,315.24 L508.00,315.22 L508.40,315.05 L508.80,314.69 L509.20,314.13 L509.60,313.48 L510.00,312.97 L510.40,312.92 L510.80,313.40 L511.20,314.14 L511.60,314.83 L512.00,315.34 L512.40,315.65 L512.80,315.84 L513.20,315.99 L513.60,316.16 L514.00,316.36 L514.40,316.57 L514.80,316.74 L515.20,316.82 L515.60,316.82 L516.00,316.77 L516.40,316.72 L516.80,316.74 L517.20,316.83 L517.60,316.96 L518.00,317.08 L518.40,317.14 L518.80,317.11 L519.20,317.04 L519.60,316.96 L520.00,316.94 L520.40,316.99 L520.80,317.10 L521.20,317.21 L521.60,317.27 L522.00,317.26 L522.40,317.18 L522.80,317.09 L523.20,317.05 L523.60,317.07 L524.00,317.16 L524.40,317.27 L524.80,317.35 L525.20,317.36 L525.60,317.29 L526.00,317.19 L526.40,317.12 L526.80,317.13 L527.20,317.20 L527.60,317.31 L528.00,317.40 L528.40,317.42 L528.80,317.37 L529.20,317.27 L529.60,317.19 L530.00,317.17 L530.40,317.23 L530.80,317.33 L531.20,317.43 L531.60,317.47 L532.00,317.44 L532.40,317.35 L532.80,317.25 L533.20,317.21 L533.60,317.25 L534.00,317.34 L534.40,317.45 L534.80,317.51 L535.20,317.49 L535.60,317.41 L536.00,317.31 L536.40,317.25 L536.80,317.27 L537.20,317.35 L537.60,317.46 L538.00,317.53 L538.40,317.54 L538.80,317.47 L539.20,317.37 L539.60,317.30 L540.00,317.29 L540.40,317.36 L540.80,317.46 L541.20,317.55 L541.60,317.58 L542.00,317.53 L542.40,317.43 L542.80,317.34 L543.20,317.31 L543.60,317.36 L544.00,317.46 L544.40,317.56 L544.80,317.61 L545.20,317.57 L545.60,317.49 L546.00,317.39 L546.40,317.34 L546.80,317.37 L547.20,317.46 L547.60,317.57 L548.00,317.63 L548.40,317.62 L548.80,317.54 L549.20,317.44 L549.60,317.37 L550.00,317.38 L550.40,317.46 L550.80,317.57 L551.20,317.64 L551.60,317.65 L552.00,317.59 L552.40,317.49 L552.80,317.41 L553.20,317.40 L553.60,317.46 L554.00,317.56 L554.40,317.65 L554.80,317.68 L555.20,317.64 L555.60,317.54 L556.00,317.45 L556.40,317.42 L556.80,317.46 L557.20,317.56" fill="none" stroke="#4a6cdc" stroke-width="0.66" stroke-linejoin="round"/>
<rect x="398.5" y="287.0" width="1.8" height="8.3" fill="#3c3c3c"/>
<rect x="414.1" y="285.8" width="1.8" height="8.9" fill="#1c9fe2"/>
<text x="400.00" y="283.50" font-size="3.3" fill="#808080" text-anchor="middle" textLength="9.60" lengthAdjust="spacingAndGlyphs" stroke="#808080" stroke-width="0.07">scFc 1</text>
<text x="415.20" y="282.30" font-size="3.3" fill="#808080" text-anchor="middle" textLength="9.60" lengthAdjust="spacingAndGlyphs" stroke="#808080" stroke-width="0.07">scFc 2</text>
<g fill="none" stroke-linecap="butt">
<path d="M487.6,256.9 L498.0,266.8 L498.0,271.8" stroke="#3c3c3c" stroke-width="1.7" stroke-linejoin="miter"/>
<path d="M510.4,256.9 L499.7,266.8 L499.7,271.8" stroke="#1c9fe2" stroke-width="1.7" stroke-linejoin="miter"/>
<path d="M486.2,258.4 L494.5,266.7" stroke="#9a9a9a" stroke-width="1.3"/>
<path d="M486.2,258.4 L494.5,266.7" stroke="#f2f2f2" stroke-width="0.6"/>
<path d="M512.1,258.4 L503.8,266.7" stroke="#36aee8" stroke-width="1.3"/>
<path d="M512.1,258.4 L503.8,266.7" stroke="#eef8fd" stroke-width="0.6"/>
</g>
<text x="498.80" y="259.30" font-size="3.3" fill="#808080" text-anchor="middle" textLength="8.60" lengthAdjust="spacingAndGlyphs" stroke="#808080" stroke-width="0.07">Fab'2</text>
<path d="M384.7,359.2 L384.7,420.3 L558.3,420.3" stroke="#b4b4b4" stroke-width="0.5" fill="none"/>
<path d="M383.5,361.3 L384.7,361.3" stroke="#b4b4b4" stroke-width="0.4"/>
<text x="382.40" y="362.40" font-size="3.5" fill="#808080" text-anchor="end" stroke="#808080" stroke-width="0.07">3e7</text>
<path d="M383.5,380.3 L384.7,380.3" stroke="#b4b4b4" stroke-width="0.4"/>
<text x="382.40" y="381.40" font-size="3.5" fill="#808080" text-anchor="end" stroke="#808080" stroke-width="0.07">2e7</text>
<path d="M383.5,400.0 L384.7,400.0" stroke="#b4b4b4" stroke-width="0.4"/>
<text x="382.40" y="401.10" font-size="3.5" fill="#808080" text-anchor="end" stroke="#808080" stroke-width="0.07">1e7</text>
<path d="M383.5,419.7 L384.7,419.7" stroke="#b4b4b4" stroke-width="0.4"/>
<text x="382.40" y="420.80" font-size="3.5" fill="#808080" text-anchor="end" stroke="#808080" stroke-width="0.07">0</text>
<text x="373.60" y="388.50" font-size="3.5" fill="#808080" text-anchor="middle" textLength="29.00" lengthAdjust="spacingAndGlyphs" transform="rotate(-90 373.60 388.50)" stroke="#808080" stroke-width="0.07">Intensity [Counts]</text>
<path d="M397.0,420.3 L397.0,421.3" stroke="#b4b4b4" stroke-width="0.4"/>
<text x="397.00" y="425.40" font-size="3.5" fill="#8c8c8c" text-anchor="middle" textLength="8.80" lengthAdjust="spacingAndGlyphs" stroke="#8c8c8c" stroke-width="0.07">881.5</text>
<path d="M412.5,420.3 L412.5,421.3" stroke="#b4b4b4" stroke-width="0.4"/>
<text x="412.50" y="425.40" font-size="3.5" fill="#8c8c8c" text-anchor="middle" textLength="10.60" lengthAdjust="spacingAndGlyphs" stroke="#8c8c8c" stroke-width="0.07">881.75</text>
<path d="M427.8,420.3 L427.8,421.3" stroke="#b4b4b4" stroke-width="0.4"/>
<text x="427.80" y="425.40" font-size="3.5" fill="#8c8c8c" text-anchor="middle" textLength="5.60" lengthAdjust="spacingAndGlyphs" stroke="#8c8c8c" stroke-width="0.07">882</text>
<path d="M443.0,420.3 L443.0,421.3" stroke="#b4b4b4" stroke-width="0.4"/>
<text x="443.00" y="425.40" font-size="3.5" fill="#8c8c8c" text-anchor="middle" textLength="10.60" lengthAdjust="spacingAndGlyphs" stroke="#8c8c8c" stroke-width="0.07">882.25</text>
<path d="M458.7,420.3 L458.7,421.3" stroke="#b4b4b4" stroke-width="0.4"/>
<text x="458.70" y="425.40" font-size="3.5" fill="#8c8c8c" text-anchor="middle" textLength="8.80" lengthAdjust="spacingAndGlyphs" stroke="#8c8c8c" stroke-width="0.07">882.5</text>
<path d="M474.2,420.3 L474.2,421.3" stroke="#b4b4b4" stroke-width="0.4"/>
<text x="474.20" y="425.40" font-size="3.5" fill="#8c8c8c" text-anchor="middle" textLength="10.60" lengthAdjust="spacingAndGlyphs" stroke="#8c8c8c" stroke-width="0.07">882.75</text>
<path d="M489.5,420.3 L489.5,421.3" stroke="#b4b4b4" stroke-width="0.4"/>
<text x="489.50" y="425.40" font-size="3.5" fill="#8c8c8c" text-anchor="middle" textLength="5.60" lengthAdjust="spacingAndGlyphs" stroke="#8c8c8c" stroke-width="0.07">883</text>
<path d="M505.3,420.3 L505.3,421.3" stroke="#b4b4b4" stroke-width="0.4"/>
<text x="505.30" y="425.40" font-size="3.5" fill="#8c8c8c" text-anchor="middle" textLength="10.60" lengthAdjust="spacingAndGlyphs" stroke="#8c8c8c" stroke-width="0.07">883.25</text>
<path d="M520.8,420.3 L520.8,421.3" stroke="#b4b4b4" stroke-width="0.4"/>
<text x="520.80" y="425.40" font-size="3.5" fill="#8c8c8c" text-anchor="middle" textLength="8.80" lengthAdjust="spacingAndGlyphs" stroke="#8c8c8c" stroke-width="0.07">883.5</text>
<path d="M535.5,420.3 L535.5,421.3" stroke="#b4b4b4" stroke-width="0.4"/>
<text x="535.50" y="425.40" font-size="3.5" fill="#8c8c8c" text-anchor="middle" textLength="10.60" lengthAdjust="spacingAndGlyphs" stroke="#8c8c8c" stroke-width="0.07">883.75</text>
<path d="M551.7,420.3 L551.7,421.3" stroke="#b4b4b4" stroke-width="0.4"/>
<text x="551.70" y="425.40" font-size="3.5" fill="#8c8c8c" text-anchor="middle" textLength="5.60" lengthAdjust="spacingAndGlyphs" stroke="#8c8c8c" stroke-width="0.07">884</text>
<text x="482.80" y="429.90" font-size="3.5" fill="#808080" text-anchor="middle" textLength="33.90" lengthAdjust="spacingAndGlyphs" stroke="#808080" stroke-width="0.07">Observed mass [m/z]</text>
<text x="527.50" y="385.60" font-size="3.5" fill="#808080" textLength="18.30" lengthAdjust="spacingAndGlyphs" stroke="#808080" stroke-width="0.07">Fraction B8</text>
<path d="M385.00,419.76 L385.35,419.67 L385.70,419.60 L386.05,419.60 L386.40,419.67 L386.75,419.76 L387.10,419.82 L387.45,419.81 L387.80,419.74 L388.15,419.65 L388.50,419.59 L388.85,419.60 L389.20,419.68 L389.55,419.77 L389.90,419.82 L390.25,419.80 L390.60,419.71 L390.95,419.62 L391.30,419.58 L391.65,419.61 L392.00,419.69 L392.35,419.78 L392.70,419.81 L393.05,419.77 L393.40,419.68 L393.75,419.60 L394.10,419.56 L394.45,419.61 L394.80,419.69 L395.15,419.77 L395.50,419.79 L395.85,419.74 L396.20,419.65 L396.55,419.57 L396.90,419.55 L397.25,419.60 L397.60,419.69 L397.95,419.76 L398.30,419.76 L398.65,419.70 L399.00,419.60 L399.35,419.53 L399.70,419.52 L400.05,419.58 L400.40,419.67 L400.75,419.73 L401.10,419.72 L401.45,419.64 L401.80,419.54 L402.15,419.47 L402.50,419.47 L402.85,419.54 L403.20,419.62 L403.55,419.66 L403.90,419.62 L404.25,419.53 L404.60,419.42 L404.95,419.36 L405.30,419.36 L405.65,419.42 L406.00,419.48 L406.35,419.48 L406.70,419.41 L407.05,419.28 L407.40,419.14 L407.75,419.04 L408.10,419.01 L408.45,419.00 L408.80,418.96 L409.15,418.84 L409.50,418.59 L409.85,418.21 L410.20,417.69 L410.55,416.87 L410.90,415.44 L411.25,412.82 L411.60,408.38 L411.95,401.80 L412.30,393.54 L412.65,385.58 L413.00,381.95 L413.35,385.50 L413.70,393.42 L414.05,401.71 L414.40,408.36 L414.75,412.85 L415.10,415.48 L415.45,416.87 L415.80,417.58 L416.15,418.01 L416.50,418.32 L416.85,418.52 L417.20,418.59 L417.55,418.49 L417.90,418.27 L418.25,418.07 L418.60,418.04 L418.95,418.25 L419.30,418.59 L419.65,418.92 L420.00,419.14 L420.35,419.24 L420.70,419.23 L421.05,419.18 L421.40,419.18 L421.75,419.23 L422.10,419.33 L422.45,419.42 L422.80,419.45 L423.15,419.40 L423.50,419.30 L423.85,419.21 L424.20,419.18 L424.55,419.22 L424.90,419.29 L425.25,419.35 L425.60,419.33 L425.95,419.24 L426.30,419.10 L426.65,418.98 L427.00,418.92 L427.35,418.92 L427.70,418.93 L428.05,418.90 L428.40,418.78 L428.75,418.56 L429.10,418.28 L429.45,417.99 L429.80,417.68 L430.15,417.31 L430.50,416.69 L430.85,415.48 L431.20,413.10 L431.55,408.71 L431.90,401.45 L432.25,390.92 L432.60,377.91 L432.95,365.48 L433.30,359.92 L433.65,365.61 L434.00,378.08 L434.35,391.03 L434.70,401.42 L435.05,408.54 L435.40,412.88 L435.75,415.32 L436.10,416.64 L436.45,417.32 L436.80,417.63 L437.15,417.70 L437.50,417.64 L437.85,417.53 L438.20,417.49 L438.55,417.62 L438.90,417.94 L439.25,418.29 L439.60,418.56 L439.95,418.72 L440.30,418.83 L440.65,418.94 L441.00,419.08 L441.35,419.23 L441.70,419.33 L442.05,419.36 L442.40,419.32 L442.75,419.24 L443.10,419.19 L443.45,419.21 L443.80,419.29 L444.15,419.39 L444.50,419.45 L444.85,419.43 L445.20,419.35 L445.55,419.25 L445.90,419.19 L446.25,419.20 L446.60,419.26 L446.95,419.33 L447.30,419.34 L447.65,419.28 L448.00,419.16 L448.35,419.02 L448.70,418.92 L449.05,418.89 L449.40,418.88 L449.75,418.86 L450.10,418.74 L450.45,418.52 L450.80,418.18 L451.15,417.73 L451.50,417.10 L451.85,416.04 L452.20,414.07 L452.55,410.45 L452.90,404.54 L453.25,396.16 L453.60,386.30 L453.95,377.94 L454.30,376.10 L454.65,382.27 L455.00,392.02 L455.35,401.23 L455.70,408.22 L456.05,412.74 L456.40,415.32 L456.75,416.69 L457.10,417.46 L457.45,417.94 L457.80,418.26 L458.15,418.41 L458.50,418.40 L458.85,418.25 L459.20,418.08 L459.55,418.05 L459.90,418.24 L460.25,418.57 L460.60,418.91 L460.95,419.14 L461.30,419.25 L461.65,419.26 L462.00,419.23 L462.35,419.23 L462.70,419.29 L463.05,419.40 L463.40,419.50 L463.75,419.55 L464.10,419.52 L464.45,419.44 L464.80,419.36 L465.15,419.34 L465.50,419.39 L465.85,419.49 L466.20,419.56 L466.55,419.58 L466.90,419.52 L467.25,419.42 L467.60,419.34 L467.95,419.31 L468.30,419.35 L468.65,419.43 L469.00,419.47 L469.35,419.44 L469.70,419.34 L470.05,419.19 L470.40,419.06 L470.75,418.98 L471.10,418.93 L471.45,418.85 L471.80,418.62 L472.15,418.09 L472.50,417.02 L472.85,415.17 L473.20,412.29 L473.55,408.34 L473.90,403.76 L474.25,399.90 L474.60,399.07 L474.95,401.97 L475.30,406.49 L475.65,410.76 L476.00,414.06 L476.35,416.29 L476.70,417.65 L477.05,418.43 L477.40,418.84 L477.75,419.01 L478.10,419.07 L478.45,419.08 L478.80,419.13 L479.15,419.24 L479.50,419.38 L479.85,419.50 L480.20,419.56 L480.55,419.53 L480.90,419.46 L481.25,419.41 L481.60,419.41 L481.95,419.49 L482.30,419.59 L482.65,419.67 L483.00,419.69 L483.35,419.63 L483.70,419.55 L484.05,419.49 L484.40,419.49 L484.75,419.57 L485.10,419.66 L485.45,419.73 L485.80,419.72 L486.15,419.65 L486.50,419.56 L486.85,419.50 L487.20,419.52 L487.55,419.60 L487.90,419.68 L488.25,419.73 L488.60,419.70 L488.95,419.61 L489.30,419.52 L489.65,419.47 L490.00,419.49 L490.35,419.56 L490.70,419.63 L491.05,419.64 L491.40,419.57 L491.75,419.45 L492.10,419.30 L492.45,419.19 L492.80,419.08 L493.15,418.88 L493.50,418.42 L493.85,417.53 L494.20,416.13 L494.55,414.30 L494.90,412.48 L495.25,411.51 L495.60,412.12 L495.95,413.84 L496.30,415.71 L496.65,417.19 L497.00,418.17 L497.35,418.70 L497.70,418.99 L498.05,419.18 L498.40,419.35 L498.75,419.51 L499.10,419.61 L499.45,419.64 L499.80,419.59 L500.15,419.52 L500.50,419.48 L500.85,419.51 L501.20,419.60 L501.55,419.70 L501.90,419.76 L502.25,419.75 L502.60,419.67 L502.95,419.59 L503.30,419.55 L503.65,419.58 L504.00,419.67 L504.35,419.76 L504.70,419.80 L505.05,419.77 L505.40,419.68 L505.75,419.60 L506.10,419.57 L506.45,419.61 L506.80,419.70 L507.15,419.79 L507.50,419.81 L507.85,419.76 L508.20,419.67 L508.55,419.59 L508.90,419.57 L509.25,419.63 L509.60,419.72 L509.95,419.79 L510.30,419.79 L510.65,419.73 L511.00,419.63 L511.35,419.55 L511.70,419.54 L512.05,419.59 L512.40,419.67 L512.75,419.70 L513.10,419.63 L513.45,419.45 L513.80,419.15 L514.15,418.76 L514.50,418.30 L514.85,417.80 L515.20,417.38 L515.55,417.25 L515.90,417.54 L516.25,418.02 L516.60,418.48 L516.95,418.87 L517.30,419.19 L517.65,419.45 L518.00,419.63 L518.35,419.72 L518.70,419.72 L519.05,419.65 L519.40,419.58 L519.75,419.55 L520.10,419.60 L520.45,419.70 L520.80,419.79 L521.15,419.82 L521.50,419.77 L521.85,419.69 L522.20,419.61 L522.55,419.59 L522.90,419.65 L523.25,419.74 L523.60,419.82 L523.95,419.83 L524.30,419.77 L524.65,419.68 L525.00,419.61 L525.35,419.61 L525.70,419.67 L526.05,419.77 L526.40,419.84 L526.75,419.83 L527.10,419.76 L527.45,419.67 L527.80,419.61 L528.15,419.62 L528.50,419.69 L528.85,419.79 L529.20,419.84 L529.55,419.82 L529.90,419.74 L530.25,419.65 L530.60,419.60 L530.95,419.62 L531.30,419.71 L531.65,419.79 L532.00,419.83 L532.35,419.79 L532.70,419.70 L533.05,419.60 L533.40,419.55 L533.75,419.55 L534.10,419.57 L534.45,419.54 L534.80,419.40 L535.15,419.15 L535.50,418.88 L535.85,418.74 L536.20,418.83 L536.55,419.07 L536.90,419.36 L537.25,419.59 L537.60,419.70 L537.95,419.70 L538.30,419.64 L538.65,419.59 L539.00,419.59 L539.35,419.66 L539.70,419.76 L540.05,419.83 L540.40,419.83 L540.75,419.77 L541.10,419.67 L541.45,419.61 L541.80,419.62 L542.15,419.70 L542.50,419.79 L542.85,419.85 L543.20,419.83 L543.55,419.76 L543.90,419.67 L544.25,419.62 L544.60,419.64 L544.95,419.72 L545.30,419.81 L545.65,419.86 L546.00,419.83 L546.35,419.74 L546.70,419.65 L547.05,419.62 L547.40,419.66 L547.75,419.74 L548.10,419.83 L548.45,419.86 L548.80,419.81 L549.15,419.72 L549.50,419.64 L549.85,419.62 L550.20,419.67 L550.55,419.76 L550.90,419.84 L551.25,419.86 L551.60,419.80 L551.95,419.71 L552.30,419.63 L552.65,419.63 L553.00,419.69 L553.35,419.78 L553.70,419.85 L554.05,419.85 L554.40,419.78 L554.75,419.69 L555.10,419.63 L555.45,419.64 L555.80,419.71 L556.15,419.80 L556.50,419.86 L556.85,419.84 L557.20,419.77 L557.55,419.68 L557.90,419.62 L558.25,419.65" fill="none" stroke="#4a6cdc" stroke-width="0.66" stroke-linejoin="round"/>
<text x="413.70" y="380.60" font-size="3.5" fill="#808080" text-anchor="middle" textLength="16.60" lengthAdjust="spacingAndGlyphs" stroke="#808080" stroke-width="0.07">881.75872</text>
<text x="433.70" y="358.30" font-size="3.5" fill="#808080" text-anchor="middle" textLength="16.60" lengthAdjust="spacingAndGlyphs" stroke="#808080" stroke-width="0.07">882.08667</text>
<text x="455.80" y="374.40" font-size="3.5" fill="#808080" text-anchor="middle" textLength="16.60" lengthAdjust="spacingAndGlyphs" stroke="#808080" stroke-width="0.07">882.42683</text>
<text x="475.30" y="396.60" font-size="3.5" fill="#808080" text-anchor="middle" textLength="16.60" lengthAdjust="spacingAndGlyphs" stroke="#808080" stroke-width="0.07">882.75490</text>
<text x="495.80" y="409.80" font-size="3.5" fill="#808080" text-anchor="middle" textLength="16.60" lengthAdjust="spacingAndGlyphs" stroke="#808080" stroke-width="0.07">883.09576</text>
<text x="516.30" y="415.30" font-size="3.5" fill="#808080" text-anchor="middle" textLength="16.60" lengthAdjust="spacingAndGlyphs" stroke="#808080" stroke-width="0.07">883.42338</text>
<text x="305.40" y="452.30" font-size="3.9" fill="#4c4c4c" textLength="240.20" lengthAdjust="spacingAndGlyphs" stroke="#4c4c4c" stroke-width="0.035">Figure 03. Intact mass and Peptide mapping data.  Data referenced from T. Menneteau, et al, “Therapeutic Protein Charge Variant</text>
<text x="305.40" y="457.40" font-size="3.9" fill="#4c4c4c" textLength="252.10" lengthAdjust="spacingAndGlyphs" stroke="#4c4c4c" stroke-width="0.035">Characterization with Intact Mass and Peptide Mapping Following Microgram Preparative Capillary Isoelectric Focusing Electrophoresis</text>
<text x="305.40" y="462.20" font-size="3.9" fill="#4c4c4c" textLength="224.00" lengthAdjust="spacingAndGlyphs" stroke="#4c4c4c" stroke-width="0.035">Fractionation”, 72nd Conference on Mass Spectrometry and Allied Topics, Anaheim, CA, USA, June 2024, Poster TP635.</text>
<text x="305.40" y="472.20" font-size="3.9" fill="#4c4c4c" textLength="244.40" lengthAdjust="spacingAndGlyphs" stroke="#4c4c4c" stroke-width="0.035">Subunit mass data taken from application note Comparing Charge Variants: Innovator vs Biosimilar Using the MauriceFlex System &amp;</text>
<text x="305.40" y="477.30" font-size="3.9" fill="#4c4c4c" textLength="36.70" lengthAdjust="spacingAndGlyphs" stroke="#4c4c4c" stroke-width="0.035">Mass Spectrometry.</text>
<text x="285.40" y="493.20" font-size="5.4" fill="#262626" font-weight="bold" textLength="7.10" lengthAdjust="spacing" stroke="#262626" stroke-width="0.12">08</text>
<defs><linearGradient id="hl" x1="0" y1="0" x2="1" y2="0"><stop offset="0" stop-color="#fff" stop-opacity="0"/><stop offset="0.5" stop-color="#fff" stop-opacity="0.45"/><stop offset="1" stop-color="#fff" stop-opacity="0"/></linearGradient></defs>
<rect x="532" y="73" width="40" height="439.3" fill="url(#hl)"/>
<rect x="540" y="73" width="60" height="439.3" fill="url(#spine)"/>
<rect x="599" y="73" width="1" height="440" fill="#6f6f6f"/>
<text x="639.20" y="111.00" font-size="4.0" fill="#1a1a1a" font-weight="bold" textLength="30.90" lengthAdjust="spacing" stroke="#1a1a1a" stroke-width="0.12">FIGURE  //  04</text>
<text x="639.10" y="121.00" font-size="6.7" fill="#1e1e1e" textLength="109.00" lengthAdjust="spacingAndGlyphs" stroke="#1e1e1e" stroke-width="0.16">Fractionation of 3 Charge Variant Clusters</text>
<text x="909.90" y="92.80" font-size="3.3" fill="#1a1a1a" font-weight="bold" textLength="69.40" lengthAdjust="spacing" transform="rotate(90 909.90 92.80)" stroke="#1a1a1a" stroke-width="0.1">BIO-TECHNE®  //  MAURICE FAMILY</text>
<path d="M657.5,125 L657.5,281.3" stroke="#a8a8a8" stroke-width="0.5" fill="none"/>
<path d="M656.2,131.40 L657.5,131.40" stroke="#a8a8a8" stroke-width="0.4"/>
<text x="654.90" y="132.50" font-size="3.3" fill="#808080" text-anchor="end" textLength="10.60" lengthAdjust="spacingAndGlyphs" stroke="#808080" stroke-width="0.07">20,000</text>
<path d="M656.2,140.30 L657.5,140.30" stroke="#a8a8a8" stroke-width="0.4"/>
<text x="654.90" y="141.40" font-size="3.3" fill="#808080" text-anchor="end" textLength="10.60" lengthAdjust="spacingAndGlyphs" stroke="#808080" stroke-width="0.07">10,000</text>
<path d="M656.2,149.20 L657.5,149.20" stroke="#a8a8a8" stroke-width="0.4"/>
<text x="654.90" y="150.30" font-size="3.3" fill="#808080" text-anchor="end" stroke="#808080" stroke-width="0.07">0</text>
<text x="664.20" y="139.35" font-size="3.5" fill="#555" textLength="15.80" lengthAdjust="spacingAndGlyphs" stroke="#555" stroke-width="0.07">Reference</text>
<path d="M710.20,149.2 L710.20,149.20 L710.60,149.20 L711.00,149.19 L711.40,149.19 L711.80,149.19 L712.20,149.19 L712.60,149.18 L713.00,149.18 L713.40,149.17 L713.80,149.16 L714.20,149.16 L714.60,149.14 L715.00,149.13 L715.40,149.12 L715.80,149.10 L716.20,149.08 L716.60,149.06 L717.00,149.04 L717.40,149.01 L717.80,148.99 L718.20,148.96 L718.60,148.93 L719.00,148.90 L719.40,148.87 L719.80,148.84 L720.20,148.81 L720.60,148.78 L721.00,148.76 L721.40,148.74 L721.80,148.72 L722.20,148.71 L722.60,148.70 L723.00,148.70 L723.40,148.70 L723.80,148.71 L724.20,148.72 L724.60,148.74 L725.00,148.76 L725.40,148.78 L725.80,148.81 L726.20,148.84 L726.60,148.87 L727.00,148.90 L727.40,148.93 L727.80,148.96 L728.20,148.99 L728.60,149.01 L729.00,149.04 L729.40,149.06 L729.80,149.08 L730.20,149.10 L730.60,149.12 L731.00,149.13 L731.40,149.14 L731.80,149.16 L732.20,149.16 L732.60,149.17 L733.00,149.18 L733.40,149.18 L733.80,149.19 L734.20,149.19 L734.60,149.19 L735.00,149.19 L735.40,149.20 L735.80,149.20 L735.80,149.2 Z" fill="#3fb4e2"/>
<path d="M768.12,149.2 L768.12,149.17 L768.52,149.16 L768.92,149.14 L769.32,149.12 L769.72,149.10 L770.12,149.07 L770.52,149.03 L770.92,148.97 L771.32,148.91 L771.72,148.83 L772.12,148.73 L772.52,148.62 L772.92,148.48 L773.32,148.32 L773.72,148.14 L774.12,147.93 L774.52,147.70 L774.92,147.44 L775.32,147.15 L775.72,146.84 L776.12,146.51 L776.52,146.17 L776.92,145.81 L777.32,145.43 L777.72,145.06 L778.12,144.68 L778.52,144.31 L778.92,143.96 L779.32,143.61 L779.72,143.29 L780.12,143.00 L780.52,142.73 L780.92,142.49 L781.32,142.28 L781.72,142.11 L782.12,141.98 L782.52,141.87 L782.92,141.80 L783.32,141.77 L783.72,141.77 L784.12,141.81 L784.52,141.88 L784.92,141.99 L785.32,142.13 L785.72,142.30 L786.12,142.51 L786.52,142.75 L786.92,143.03 L787.32,143.32 L787.72,143.65 L788.12,143.99 L788.52,144.35 L788.92,144.72 L789.32,145.10 L789.72,145.47 L790.12,145.84 L790.52,146.20 L790.92,146.55 L791.32,146.88 L791.72,147.18 L792.12,147.47 L792.52,147.72 L792.92,147.96 L793.32,148.16 L793.72,148.34 L794.12,148.50 L794.52,148.63 L794.92,148.74 L795.32,148.84 L795.72,148.92 L796.12,148.98 L796.52,149.03 L796.92,149.07 L797.32,149.10 L797.72,149.13 L798.12,149.15 L798.52,149.16 L798.88,149.2 Z" fill="#4d6fd0"/>
<path d="M657.90,149.33 L658.70,149.35 L659.50,149.29 L660.30,149.32 L661.10,149.31 L661.90,149.26 L662.70,149.36 L663.50,149.28 L664.30,149.32 L665.10,149.34 L665.90,149.29 L666.70,149.76 L667.50,149.33 L668.30,149.35 L669.10,149.34 L669.90,149.29 L670.70,149.36 L671.50,149.29 L672.30,149.36 L673.10,149.27 L673.90,149.33 L674.70,149.23 L675.50,149.29 L676.30,149.31 L677.10,149.23 L677.90,149.35 L678.70,149.76 L679.50,149.24 L680.30,149.25 L681.10,149.24 L681.90,149.77 L682.70,149.29 L683.50,149.24 L684.30,149.28 L685.10,149.30 L685.90,149.33 L686.70,149.24 L687.50,149.30 L688.30,149.23 L689.10,149.36 L689.90,149.23 L690.70,149.37 L691.50,149.32 L692.30,149.28 L693.10,149.35 L693.90,149.34 L694.70,149.25 L695.50,149.35 L696.30,149.32 L697.10,149.32 L697.90,149.34 L698.70,149.24 L699.50,149.29 L700.30,149.37 L701.10,149.36 L701.90,149.29 L702.70,149.33 L703.50,149.29 L704.30,149.28 L705.10,149.73 L705.90,149.28 L706.70,149.34 L707.50,149.26 L708.30,149.35 L709.10,149.36 L709.90,149.31 L710.70,149.30 L711.50,149.36 L712.30,149.35 L713.10,149.23 L713.90,149.33 L714.70,149.26 L715.50,149.27 L716.30,149.10 L717.10,149.08 L717.90,149.01 L718.70,148.95 L719.50,149.01 L720.30,148.84 L721.10,148.88 L721.90,148.87 L722.70,148.84 L723.50,148.86 L724.30,148.76 L725.10,148.90 L725.90,149.36 L726.70,149.02 L727.50,148.97 L728.30,149.03 L729.10,149.10 L729.90,149.18 L730.70,149.24 L731.50,149.24 L732.30,149.21 L733.10,149.21 L733.90,149.30 L734.70,149.33 L735.50,149.28 L736.30,149.26 L737.10,149.35 L737.90,149.37 L738.70,149.34 L739.50,149.23 L740.30,149.28 L741.10,149.79 L741.90,149.35 L742.70,149.31 L743.50,149.24 L744.30,149.34 L745.10,149.79 L745.90,149.32 L746.70,149.32 L747.50,149.29 L748.30,149.34 L749.10,149.30 L749.90,149.23 L750.70,149.35 L751.50,149.28 L752.30,149.26 L753.10,149.76 L753.90,149.28 L754.70,149.32 L755.50,149.31 L756.30,149.26 L757.10,149.24 L757.90,149.30 L758.70,149.34 L759.50,149.68 L760.30,149.29 L761.10,149.35 L761.90,149.28 L762.70,149.28 L763.50,149.35 L764.30,149.33 L765.10,149.24 L765.90,149.68 L766.70,149.24 L767.50,149.29 L768.30,149.27 L769.10,149.30 L769.90,149.25 L770.70,149.07 L771.50,148.92 L772.30,148.82 L773.10,148.52 L773.90,148.15 L774.70,147.66 L775.50,147.16 L776.30,146.53 L777.10,145.78 L777.90,144.92 L778.70,144.28 L779.50,143.59 L780.30,142.91 L781.10,142.47 L781.90,142.07 L782.70,141.89 L783.50,141.81 L784.30,141.90 L785.10,142.18 L785.90,142.48 L786.70,142.91 L787.50,143.64 L788.30,144.19 L789.10,145.46 L789.90,145.81 L790.70,146.44 L791.50,147.08 L792.30,147.67 L793.10,148.10 L793.90,148.46 L794.70,148.73 L795.50,148.91 L796.30,149.15 L797.10,149.26 L797.90,149.19 L798.70,149.22 L799.50,149.31 L800.30,149.35 L801.10,149.34 L801.90,149.73 L802.70,149.34 L803.50,149.27 L804.30,149.33 L805.10,149.30 L805.90,149.70 L806.70,149.31 L807.50,149.26 L808.30,149.27 L809.10,149.34 L809.90,149.36 L810.70,149.77 L811.50,149.34 L812.30,149.65 L813.10,149.30 L813.90,149.26 L814.70,149.30 L815.50,149.25 L816.30,149.23 L817.10,149.34 L817.90,149.30 L818.70,149.28 L819.50,149.26 L820.30,149.26 L821.10,149.32 L821.90,149.32 L822.70,149.36 L823.50,149.37 L824.30,149.34 L825.10,149.30 L825.90,149.24 L826.70,149.31 L827.50,149.26 L828.30,149.28 L829.10,149.33 L829.90,149.25 L830.70,149.26 L831.50,149.31 L832.30,149.29 L833.10,149.31 L833.90,149.34 L834.70,149.33 L835.50,149.25 L836.30,149.35 L837.10,149.33 L837.90,149.35 L838.70,149.35 L839.50,149.27 L840.30,149.23 L841.10,149.32 L841.90,149.26 L842.70,149.31 L843.50,149.28 L844.30,149.34 L845.10,149.37 L845.90,149.26 L846.70,149.30 L847.50,149.31 L848.30,149.28 L849.10,149.26 L849.90,149.31 L850.70,149.26 L851.50,149.34 L852.30,149.24 L853.10,149.27 L853.90,149.27 L854.70,149.31 L855.50,149.28 L856.30,149.31 L857.10,149.27 L857.90,149.34 L858.70,149.31 L859.50,149.31 L860.30,149.24 L861.10,149.28 L861.90,149.32 L862.70,149.65 L863.50,149.29 L864.30,149.26 L865.10,149.30 L865.90,149.29 L866.70,149.27 L867.50,149.28 L868.30,149.30 L869.10,149.23 L869.90,149.27 L870.70,149.26 L871.50,149.23 L872.30,149.37 L873.10,149.74 L873.90,149.31 L874.70,149.27 L875.50,149.34 L876.30,149.26 L877.10,149.30 L877.90,149.25 L878.70,149.34 L879.50,149.26 L880.30,149.28 L881.10,149.29 L881.90,149.23 L882.70,149.28 L883.50,149.25 L884.30,149.33 L885.10,149.36 L885.90,149.32 L886.70,149.33 L887.50,149.34 L888.30,149.77 L889.10,149.27 L889.90,149.34 L890.70,149.30" fill="none" stroke="#5a5a5a" stroke-width="0.55"/>
<path d="M656.2,157.50 L657.5,157.50" stroke="#a8a8a8" stroke-width="0.4"/>
<text x="654.90" y="158.60" font-size="3.3" fill="#808080" text-anchor="end" textLength="10.60" lengthAdjust="spacingAndGlyphs" stroke="#808080" stroke-width="0.07">20,000</text>
<path d="M656.2,166.40 L657.5,166.40" stroke="#a8a8a8" stroke-width="0.4"/>
<text x="654.90" y="167.50" font-size="3.3" fill="#808080" text-anchor="end" textLength="10.60" lengthAdjust="spacingAndGlyphs" stroke="#808080" stroke-width="0.07">10,000</text>
<path d="M656.2,175.30 L657.5,175.30" stroke="#a8a8a8" stroke-width="0.4"/>
<text x="654.90" y="176.40" font-size="3.3" fill="#808080" text-anchor="end" stroke="#808080" stroke-width="0.07">0</text>
<text x="664.20" y="165.45" font-size="3.5" fill="#555" textLength="18.40" lengthAdjust="spacingAndGlyphs" stroke="#555" stroke-width="0.07">Fraction B8</text>
<path d="M763.90,175.3 L763.90,175.17 L764.30,175.12 L764.70,175.06 L765.10,174.98 L765.50,174.87 L765.90,174.74 L766.30,174.56 L766.70,174.35 L767.10,174.09 L767.50,173.77 L767.90,173.38 L768.30,172.92 L768.70,172.38 L769.10,171.75 L769.50,171.03 L769.90,170.21 L770.30,169.29 L770.70,168.29 L771.10,167.19 L771.50,166.02 L771.90,164.79 L772.30,163.50 L772.70,162.20 L773.10,160.89 L773.50,159.62 L773.90,158.39 L774.30,157.26 L774.70,156.24 L775.10,155.36 L775.50,154.65 L775.90,154.13 L776.30,153.81 L776.70,153.70 L777.10,153.81 L777.50,154.13 L777.90,154.65 L778.30,155.36 L778.70,156.24 L779.10,157.26 L779.50,158.39 L779.90,159.62 L780.30,160.89 L780.70,162.20 L781.10,163.50 L781.50,164.79 L781.90,166.02 L782.30,167.19 L782.70,168.29 L783.10,169.29 L783.50,170.21 L783.90,171.03 L784.30,171.75 L784.70,172.38 L785.10,172.92 L785.50,173.38 L785.90,173.77 L786.30,174.09 L786.70,174.35 L787.10,174.56 L787.50,174.74 L787.90,174.87 L788.30,174.98 L788.70,175.06 L789.10,175.12 L789.50,175.17 L789.50,175.3 Z" fill="#4d6fd0"/>
<path d="M657.90,175.38 L658.70,175.42 L659.50,175.35 L660.30,175.35 L661.10,175.36 L661.90,175.35 L662.70,175.89 L663.50,175.33 L664.30,175.44 L665.10,175.45 L665.90,175.36 L666.70,175.45 L667.50,175.36 L668.30,175.34 L669.10,175.36 L669.90,175.34 L670.70,175.35 L671.50,175.37 L672.30,175.36 L673.10,175.34 L673.90,175.44 L674.70,175.45 L675.50,175.47 L676.30,175.45 L677.10,175.40 L677.90,175.77 L678.70,175.35 L679.50,175.39 L680.30,175.35 L681.10,175.41 L681.90,175.46 L682.70,175.80 L683.50,175.38 L684.30,175.34 L685.10,175.33 L685.90,175.40 L686.70,175.47 L687.50,175.38 L688.30,175.35 L689.10,175.40 L689.90,175.36 L690.70,175.41 L691.50,175.39 L692.30,175.43 L693.10,175.41 L693.90,175.43 L694.70,175.33 L695.50,175.36 L696.30,175.43 L697.10,175.39 L697.90,175.36 L698.70,175.37 L699.50,175.39 L700.30,175.85 L701.10,175.45 L701.90,175.38 L702.70,175.36 L703.50,175.38 L704.30,175.38 L705.10,175.39 L705.90,175.44 L706.70,175.41 L707.50,175.46 L708.30,175.47 L709.10,175.34 L709.90,175.42 L710.70,175.36 L711.50,175.44 L712.30,175.41 L713.10,175.41 L713.90,175.33 L714.70,175.81 L715.50,175.46 L716.30,175.39 L717.10,175.83 L717.90,175.42 L718.70,175.33 L719.50,175.40 L720.30,175.46 L721.10,175.44 L721.90,175.89 L722.70,175.37 L723.50,175.33 L724.30,175.34 L725.10,175.47 L725.90,175.44 L726.70,175.45 L727.50,175.36 L728.30,175.35 L729.10,175.46 L729.90,175.37 L730.70,175.34 L731.50,175.33 L732.30,175.89 L733.10,175.38 L733.90,175.46 L734.70,175.37 L735.50,175.35 L736.30,175.47 L737.10,175.39 L737.90,175.37 L738.70,175.36 L739.50,175.38 L740.30,175.41 L741.10,175.36 L741.90,175.36 L742.70,175.43 L743.50,175.33 L744.30,175.35 L745.10,175.38 L745.90,175.35 L746.70,175.43 L747.50,175.34 L748.30,175.37 L749.10,175.34 L749.90,175.85 L750.70,175.44 L751.50,175.39 L752.30,175.34 L753.10,175.35 L753.90,175.34 L754.70,175.43 L755.50,175.35 L756.30,175.34 L757.10,175.46 L757.90,175.36 L758.70,175.36 L759.50,175.44 L760.30,175.37 L761.10,175.43 L761.90,175.34 L762.70,175.36 L763.50,175.26 L764.30,175.26 L765.10,175.02 L765.90,174.83 L766.70,174.44 L767.50,173.91 L768.30,172.99 L769.10,171.84 L769.90,170.31 L770.70,168.46 L771.50,166.14 L772.30,163.58 L773.10,161.04 L773.90,158.52 L774.70,156.83 L775.50,154.68 L776.30,153.91 L777.10,153.94 L777.90,154.76 L778.70,156.30 L779.50,158.42 L780.30,161.06 L781.10,163.65 L781.90,166.19 L782.70,168.33 L783.50,170.24 L784.30,171.91 L785.10,173.03 L785.90,173.80 L786.70,174.44 L787.50,174.77 L788.30,175.09 L789.10,175.27 L789.90,175.23 L790.70,175.42 L791.50,175.40 L792.30,175.33 L793.10,175.46 L793.90,175.37 L794.70,175.33 L795.50,175.45 L796.30,175.33 L797.10,175.43 L797.90,175.36 L798.70,175.43 L799.50,175.46 L800.30,175.45 L801.10,175.45 L801.90,175.47 L802.70,175.87 L803.50,175.34 L804.30,175.33 L805.10,175.34 L805.90,175.41 L806.70,175.34 L807.50,175.38 L808.30,175.42 L809.10,175.40 L809.90,175.45 L810.70,175.47 L811.50,175.39 L812.30,175.34 L813.10,175.41 L813.90,175.43 L814.70,175.42 L815.50,175.40 L816.30,175.34 L817.10,175.33 L817.90,175.34 L818.70,175.44 L819.50,175.43 L820.30,175.44 L821.10,175.33 L821.90,175.34 L822.70,175.43 L823.50,175.47 L824.30,175.43 L825.10,175.47 L825.90,175.42 L826.70,175.47 L827.50,175.40 L828.30,175.41 L829.10,175.44 L829.90,175.45 L830.70,175.36 L831.50,175.45 L832.30,175.46 L833.10,175.40 L833.90,175.44 L834.70,175.37 L835.50,175.39 L836.30,175.47 L837.10,175.41 L837.90,175.47 L838.70,175.42 L839.50,175.35 L840.30,175.47 L841.10,175.40 L841.90,175.44 L842.70,175.35 L843.50,175.45 L844.30,175.81 L845.10,175.40 L845.90,175.40 L846.70,175.37 L847.50,175.35 L848.30,175.37 L849.10,175.36 L849.90,175.34 L850.70,175.40 L851.50,175.40 L852.30,175.47 L853.10,175.44 L853.90,175.46 L854.70,175.77 L855.50,175.46 L856.30,175.87 L857.10,175.39 L857.90,175.40 L858.70,175.46 L859.50,175.37 L860.30,175.46 L861.10,175.40 L861.90,175.46 L862.70,175.45 L863.50,175.35 L864.30,175.39 L865.10,175.45 L865.90,175.33 L866.70,175.41 L867.50,175.40 L868.30,175.33 L869.10,175.42 L869.90,175.42 L870.70,175.33 L871.50,175.34 L872.30,175.35 L873.10,175.40 L873.90,175.33 L874.70,175.41 L875.50,175.42 L876.30,175.46 L877.10,175.82 L877.90,175.45 L878.70,175.36 L879.50,175.38 L880.30,175.34 L881.10,175.47 L881.90,175.44 L882.70,175.43 L883.50,175.34 L884.30,175.44 L885.10,175.41 L885.90,175.43 L886.70,175.38 L887.50,175.39 L888.30,175.40 L889.10,175.41 L889.90,175.45 L890.70,175.46" fill="none" stroke="#5a5a5a" stroke-width="0.55"/>
<path d="M656.2,183.60 L657.5,183.60" stroke="#a8a8a8" stroke-width="0.4"/>
<text x="654.90" y="184.70" font-size="3.3" fill="#808080" text-anchor="end" textLength="10.60" lengthAdjust="spacingAndGlyphs" stroke="#808080" stroke-width="0.07">20,000</text>
<path d="M656.2,192.50 L657.5,192.50" stroke="#a8a8a8" stroke-width="0.4"/>
<text x="654.90" y="193.60" font-size="3.3" fill="#808080" text-anchor="end" textLength="10.60" lengthAdjust="spacingAndGlyphs" stroke="#808080" stroke-width="0.07">10,000</text>
<path d="M656.2,201.40 L657.5,201.40" stroke="#a8a8a8" stroke-width="0.4"/>
<text x="654.90" y="202.50" font-size="3.3" fill="#808080" text-anchor="end" stroke="#808080" stroke-width="0.07">0</text>
<text x="664.20" y="191.55" font-size="3.5" fill="#555" textLength="20.20" lengthAdjust="spacingAndGlyphs" stroke="#555" stroke-width="0.07">Fraction B10</text>
<path d="M761.08,201.4 L761.08,201.38 L761.48,201.37 L761.88,201.36 L762.28,201.35 L762.68,201.33 L763.08,201.31 L763.48,201.29 L763.88,201.26 L764.28,201.23 L764.68,201.19 L765.08,201.14 L765.48,201.09 L765.88,201.02 L766.28,200.94 L766.68,200.85 L767.08,200.75 L767.48,200.64 L767.88,200.51 L768.28,200.37 L768.68,200.22 L769.08,200.06 L769.48,199.88 L769.88,199.70 L770.28,199.50 L770.68,199.30 L771.08,199.10 L771.48,198.89 L771.88,198.69 L772.28,198.49 L772.68,198.30 L773.08,198.13 L773.48,197.97 L773.88,197.83 L774.28,197.71 L774.68,197.61 L775.08,197.55 L775.48,197.51 L775.88,197.50 L776.28,197.52 L776.68,197.57 L777.08,197.65 L777.48,197.75 L777.88,197.88 L778.28,198.03 L778.68,198.19 L779.08,198.38 L779.48,198.57 L779.88,198.77 L780.28,198.97 L780.68,199.18 L781.08,199.38 L781.48,199.58 L781.88,199.77 L782.28,199.95 L782.68,200.13 L783.08,200.29 L783.48,200.43 L783.88,200.57 L784.28,200.69 L784.68,200.79 L785.08,200.89 L785.48,200.97 L785.88,201.05 L786.28,201.11 L786.68,201.16 L787.08,201.21 L787.48,201.24 L787.88,201.28 L788.28,201.30 L788.68,201.32 L789.08,201.34 L789.48,201.35 L789.88,201.36 L790.28,201.37 L790.52,201.4 Z" fill="#4d6fd0"/>
<path d="M657.90,201.51 L658.70,201.54 L659.50,201.49 L660.30,201.48 L661.10,201.48 L661.90,201.47 L662.70,201.49 L663.50,201.50 L664.30,201.54 L665.10,201.50 L665.90,201.91 L666.70,201.52 L667.50,201.54 L668.30,201.50 L669.10,201.43 L669.90,201.46 L670.70,201.56 L671.50,201.51 L672.30,201.52 L673.10,201.46 L673.90,201.54 L674.70,201.46 L675.50,201.52 L676.30,201.47 L677.10,201.45 L677.90,201.50 L678.70,201.46 L679.50,201.50 L680.30,201.47 L681.10,201.56 L681.90,201.57 L682.70,201.49 L683.50,201.43 L684.30,201.51 L685.10,201.44 L685.90,201.52 L686.70,201.51 L687.50,201.53 L688.30,201.49 L689.10,201.53 L689.90,201.45 L690.70,201.51 L691.50,201.53 L692.30,201.49 L693.10,201.56 L693.90,201.53 L694.70,201.45 L695.50,201.54 L696.30,201.86 L697.10,201.57 L697.90,201.50 L698.70,201.46 L699.50,201.43 L700.30,201.50 L701.10,201.52 L701.90,201.49 L702.70,201.43 L703.50,201.50 L704.30,201.52 L705.10,201.49 L705.90,201.44 L706.70,201.50 L707.50,201.48 L708.30,201.52 L709.10,201.45 L709.90,201.53 L710.70,201.45 L711.50,201.56 L712.30,201.47 L713.10,201.43 L713.90,201.51 L714.70,201.53 L715.50,201.50 L716.30,201.55 L717.10,201.48 L717.90,201.43 L718.70,201.57 L719.50,201.46 L720.30,201.89 L721.10,201.53 L721.90,201.49 L722.70,201.55 L723.50,201.49 L724.30,201.48 L725.10,201.43 L725.90,201.51 L726.70,201.55 L727.50,201.56 L728.30,201.55 L729.10,201.45 L729.90,201.45 L730.70,201.57 L731.50,201.53 L732.30,201.52 L733.10,201.54 L733.90,201.44 L734.70,201.52 L735.50,201.52 L736.30,201.44 L737.10,201.43 L737.90,201.48 L738.70,201.57 L739.50,201.45 L740.30,201.44 L741.10,201.53 L741.90,201.43 L742.70,201.43 L743.50,201.52 L744.30,201.54 L745.10,201.44 L745.90,201.46 L746.70,201.55 L747.50,201.55 L748.30,201.53 L749.10,201.56 L749.90,201.52 L750.70,201.57 L751.50,201.45 L752.30,201.54 L753.10,201.53 L753.90,201.57 L754.70,201.52 L755.50,201.47 L756.30,201.53 L757.10,201.55 L757.90,201.45 L758.70,201.55 L759.50,201.46 L760.30,201.42 L761.10,201.41 L761.90,201.50 L762.70,201.49 L763.50,201.43 L764.30,201.32 L765.10,201.28 L765.90,201.16 L766.70,201.01 L767.50,200.73 L768.30,200.43 L769.10,200.13 L769.90,199.82 L770.70,199.45 L771.50,198.93 L772.30,198.56 L773.10,198.21 L773.90,197.92 L774.70,197.78 L775.50,197.65 L776.30,197.59 L777.10,197.77 L777.90,197.94 L778.70,198.25 L779.50,199.13 L780.30,199.06 L781.10,199.51 L781.90,199.86 L782.70,200.27 L783.50,200.56 L784.30,200.84 L785.10,200.93 L785.90,201.12 L786.70,201.33 L787.50,201.39 L788.30,201.84 L789.10,201.47 L789.90,201.51 L790.70,201.47 L791.50,201.53 L792.30,201.47 L793.10,201.57 L793.90,201.46 L794.70,201.57 L795.50,201.48 L796.30,201.54 L797.10,201.46 L797.90,201.44 L798.70,201.56 L799.50,201.52 L800.30,201.45 L801.10,201.56 L801.90,201.51 L802.70,201.47 L803.50,201.45 L804.30,201.51 L805.10,201.47 L805.90,201.50 L806.70,201.56 L807.50,201.57 L808.30,201.45 L809.10,201.49 L809.90,201.48 L810.70,201.54 L811.50,201.52 L812.30,201.54 L813.10,201.55 L813.90,201.47 L814.70,201.54 L815.50,201.51 L816.30,201.52 L817.10,201.44 L817.90,201.49 L818.70,201.45 L819.50,201.46 L820.30,201.48 L821.10,201.51 L821.90,201.45 L822.70,201.53 L823.50,201.54 L824.30,201.53 L825.10,201.47 L825.90,201.56 L826.70,201.50 L827.50,201.55 L828.30,201.57 L829.10,201.46 L829.90,201.47 L830.70,201.49 L831.50,201.50 L832.30,201.55 L833.10,201.57 L833.90,201.48 L834.70,201.43 L835.50,201.54 L836.30,201.97 L837.10,201.46 L837.90,201.53 L838.70,201.48 L839.50,201.44 L840.30,201.46 L841.10,201.46 L841.90,201.55 L842.70,201.53 L843.50,201.49 L844.30,201.45 L845.10,201.57 L845.90,201.48 L846.70,201.47 L847.50,201.43 L848.30,201.50 L849.10,201.53 L849.90,201.56 L850.70,201.55 L851.50,201.43 L852.30,201.57 L853.10,201.55 L853.90,201.57 L854.70,201.45 L855.50,201.51 L856.30,201.48 L857.10,201.51 L857.90,201.51 L858.70,201.45 L859.50,201.55 L860.30,201.51 L861.10,201.52 L861.90,201.56 L862.70,201.51 L863.50,201.44 L864.30,201.43 L865.10,201.48 L865.90,201.57 L866.70,201.48 L867.50,201.49 L868.30,201.50 L869.10,201.53 L869.90,201.86 L870.70,201.55 L871.50,201.51 L872.30,201.48 L873.10,201.49 L873.90,201.50 L874.70,201.52 L875.50,201.55 L876.30,201.49 L877.10,201.45 L877.90,201.56 L878.70,201.54 L879.50,201.49 L880.30,201.49 L881.10,201.50 L881.90,201.56 L882.70,201.56 L883.50,201.45 L884.30,201.47 L885.10,201.56 L885.90,201.47 L886.70,201.45 L887.50,201.55 L888.30,201.49 L889.10,201.55 L889.90,201.57 L890.70,201.94" fill="none" stroke="#5a5a5a" stroke-width="0.55"/>
<path d="M656.2,210.20 L657.5,210.20" stroke="#a8a8a8" stroke-width="0.4"/>
<text x="654.90" y="211.30" font-size="3.3" fill="#808080" text-anchor="end" textLength="10.60" lengthAdjust="spacingAndGlyphs" stroke="#808080" stroke-width="0.07">20,000</text>
<path d="M656.2,219.10 L657.5,219.10" stroke="#a8a8a8" stroke-width="0.4"/>
<text x="654.90" y="220.20" font-size="3.3" fill="#808080" text-anchor="end" textLength="10.60" lengthAdjust="spacingAndGlyphs" stroke="#808080" stroke-width="0.07">10,000</text>
<path d="M656.2,228.00 L657.5,228.00" stroke="#a8a8a8" stroke-width="0.4"/>
<text x="654.90" y="229.10" font-size="3.3" fill="#808080" text-anchor="end" stroke="#808080" stroke-width="0.07">0</text>
<text x="664.20" y="218.15" font-size="3.5" fill="#555" textLength="20.20" lengthAdjust="spacingAndGlyphs" stroke="#555" stroke-width="0.07">Fraction B11</text>
<path d="M657.90,228.09 L658.70,228.13 L659.50,228.11 L660.30,228.08 L661.10,228.09 L661.90,228.04 L662.70,228.06 L663.50,228.06 L664.30,228.05 L665.10,228.12 L665.90,228.03 L666.70,228.17 L667.50,228.16 L668.30,228.05 L669.10,228.04 L669.90,228.14 L670.70,228.11 L671.50,228.09 L672.30,228.17 L673.10,228.05 L673.90,228.09 L674.70,228.07 L675.50,228.15 L676.30,228.09 L677.10,228.05 L677.90,228.17 L678.70,228.15 L679.50,228.04 L680.30,228.17 L681.10,228.05 L681.90,228.12 L682.70,228.15 L683.50,228.12 L684.30,228.08 L685.10,228.13 L685.90,228.04 L686.70,228.17 L687.50,228.12 L688.30,228.09 L689.10,228.54 L689.90,228.09 L690.70,228.17 L691.50,228.03 L692.30,228.15 L693.10,228.13 L693.90,228.10 L694.70,228.09 L695.50,228.03 L696.30,228.17 L697.10,228.06 L697.90,228.06 L698.70,228.08 L699.50,228.13 L700.30,228.04 L701.10,228.07 L701.90,228.06 L702.70,228.10 L703.50,228.12 L704.30,228.11 L705.10,228.12 L705.90,228.03 L706.70,228.12 L707.50,228.14 L708.30,228.57 L709.10,228.04 L709.90,228.11 L710.70,228.13 L711.50,228.17 L712.30,228.13 L713.10,228.09 L713.90,228.12 L714.70,228.09 L715.50,228.15 L716.30,228.03 L717.10,228.06 L717.90,228.04 L718.70,228.10 L719.50,228.13 L720.30,228.17 L721.10,228.13 L721.90,228.14 L722.70,228.14 L723.50,228.05 L724.30,228.15 L725.10,228.03 L725.90,228.16 L726.70,228.04 L727.50,228.15 L728.30,228.09 L729.10,228.08 L729.90,228.14 L730.70,228.05 L731.50,228.10 L732.30,228.10 L733.10,228.08 L733.90,228.03 L734.70,228.02 L735.50,228.03 L736.30,228.02 L737.10,227.89 L737.90,227.91 L738.70,227.74 L739.50,227.75 L740.30,227.66 L741.10,227.58 L741.90,227.45 L742.70,227.34 L743.50,227.27 L744.30,227.26 L745.10,227.25 L745.90,227.16 L746.70,227.24 L747.50,227.18 L748.30,227.34 L749.10,227.31 L749.90,227.53 L750.70,227.52 L751.50,227.65 L752.30,227.75 L753.10,228.27 L753.90,227.91 L754.70,227.92 L755.50,228.01 L756.30,228.02 L757.10,228.08 L757.90,227.99 L758.70,228.14 L759.50,228.12 L760.30,228.09 L761.10,228.12 L761.90,228.10 L762.70,228.04 L763.50,228.06 L764.30,228.08 L765.10,228.04 L765.90,228.09 L766.70,228.04 L767.50,228.08 L768.30,228.14 L769.10,228.11 L769.90,228.14 L770.70,228.08 L771.50,228.03 L772.30,228.09 L773.10,228.05 L773.90,228.13 L774.70,228.05 L775.50,228.13 L776.30,228.04 L777.10,228.07 L777.90,228.11 L778.70,228.04 L779.50,228.04 L780.30,228.06 L781.10,228.15 L781.90,228.03 L782.70,228.17 L783.50,228.45 L784.30,228.04 L785.10,228.06 L785.90,228.15 L786.70,228.16 L787.50,228.04 L788.30,228.04 L789.10,228.17 L789.90,228.06 L790.70,228.17 L791.50,228.14 L792.30,228.58 L793.10,228.03 L793.90,228.04 L794.70,228.10 L795.50,228.11 L796.30,228.07 L797.10,228.06 L797.90,228.16 L798.70,228.10 L799.50,228.12 L800.30,228.03 L801.10,228.07 L801.90,228.15 L802.70,228.16 L803.50,228.10 L804.30,228.09 L805.10,228.17 L805.90,228.08 L806.70,228.09 L807.50,228.03 L808.30,228.07 L809.10,228.13 L809.90,228.03 L810.70,228.12 L811.50,228.15 L812.30,228.17 L813.10,228.04 L813.90,228.08 L814.70,228.14 L815.50,228.16 L816.30,228.06 L817.10,228.17 L817.90,228.13 L818.70,228.09 L819.50,228.45 L820.30,228.06 L821.10,228.10 L821.90,228.03 L822.70,228.08 L823.50,228.12 L824.30,228.12 L825.10,228.08 L825.90,228.13 L826.70,228.09 L827.50,228.08 L828.30,228.04 L829.10,228.07 L829.90,228.10 L830.70,228.15 L831.50,228.10 L832.30,228.10 L833.10,228.14 L833.90,228.05 L834.70,228.08 L835.50,228.04 L836.30,228.17 L837.10,228.05 L837.90,228.16 L838.70,228.14 L839.50,228.12 L840.30,228.10 L841.10,228.16 L841.90,228.03 L842.70,228.11 L843.50,228.06 L844.30,228.15 L845.10,228.12 L845.90,228.14 L846.70,228.12 L847.50,228.17 L848.30,228.09 L849.10,228.15 L849.90,228.13 L850.70,228.14 L851.50,228.16 L852.30,228.05 L853.10,228.11 L853.90,228.08 L854.70,228.17 L855.50,228.12 L856.30,228.13 L857.10,228.08 L857.90,228.12 L858.70,228.09 L859.50,228.15 L860.30,228.07 L861.10,228.08 L861.90,228.16 L862.70,228.12 L863.50,228.10 L864.30,228.48 L865.10,228.09 L865.90,228.11 L866.70,228.11 L867.50,228.04 L868.30,228.10 L869.10,228.05 L869.90,228.06 L870.70,228.17 L871.50,228.09 L872.30,228.06 L873.10,228.14 L873.90,228.05 L874.70,228.16 L875.50,228.09 L876.30,228.07 L877.10,228.10 L877.90,228.07 L878.70,228.09 L879.50,228.05 L880.30,228.15 L881.10,228.52 L881.90,228.03 L882.70,228.14 L883.50,228.14 L884.30,228.09 L885.10,228.11 L885.90,228.13 L886.70,228.05 L887.50,228.14 L888.30,228.17 L889.10,228.12 L889.90,228.10 L890.70,228.12" fill="none" stroke="#5a5a5a" stroke-width="0.55"/>
<path d="M656.2,236.40 L657.5,236.40" stroke="#a8a8a8" stroke-width="0.4"/>
<text x="654.90" y="237.50" font-size="3.3" fill="#808080" text-anchor="end" textLength="10.60" lengthAdjust="spacingAndGlyphs" stroke="#808080" stroke-width="0.07">20,000</text>
<path d="M656.2,245.30 L657.5,245.30" stroke="#a8a8a8" stroke-width="0.4"/>
<text x="654.90" y="246.40" font-size="3.3" fill="#808080" text-anchor="end" textLength="10.60" lengthAdjust="spacingAndGlyphs" stroke="#808080" stroke-width="0.07">10,000</text>
<path d="M656.2,254.20 L657.5,254.20" stroke="#a8a8a8" stroke-width="0.4"/>
<text x="654.90" y="255.30" font-size="3.3" fill="#808080" text-anchor="end" stroke="#808080" stroke-width="0.07">0</text>
<text x="664.20" y="244.35" font-size="3.5" fill="#555" textLength="20.20" lengthAdjust="spacingAndGlyphs" stroke="#555" stroke-width="0.07">Fraction C12</text>
<path d="M706.56,254.2 L706.56,254.18 L706.96,254.18 L707.36,254.17 L707.76,254.16 L708.16,254.15 L708.56,254.14 L708.96,254.12 L709.36,254.09 L709.76,254.07 L710.16,254.03 L710.56,253.99 L710.96,253.94 L711.36,253.89 L711.76,253.82 L712.16,253.74 L712.56,253.66 L712.96,253.56 L713.36,253.45 L713.76,253.34 L714.16,253.21 L714.56,253.08 L714.96,252.93 L715.36,252.79 L715.76,252.64 L716.16,252.49 L716.56,252.34 L716.96,252.20 L717.36,252.07 L717.76,251.94 L718.16,251.84 L718.56,251.75 L718.96,251.68 L719.36,251.63 L719.76,251.60 L720.16,251.60 L720.56,251.62 L720.96,251.67 L721.36,251.73 L721.76,251.82 L722.16,251.92 L722.56,252.04 L722.96,252.17 L723.36,252.31 L723.76,252.46 L724.16,252.61 L724.56,252.76 L724.96,252.91 L725.36,253.05 L725.76,253.18 L726.16,253.31 L726.56,253.43 L726.96,253.54 L727.36,253.64 L727.76,253.73 L728.16,253.81 L728.56,253.87 L728.96,253.93 L729.36,253.98 L729.76,254.03 L730.16,254.06 L730.56,254.09 L730.96,254.11 L731.36,254.13 L731.76,254.15 L732.16,254.16 L732.56,254.17 L732.96,254.18 L733.36,254.18 L733.44,254.2 Z" fill="#3fb4e2"/>
<path d="M657.90,254.34 L658.70,254.29 L659.50,254.33 L660.30,254.31 L661.10,254.33 L661.90,254.26 L662.70,254.27 L663.50,254.29 L664.30,254.23 L665.10,254.24 L665.90,254.31 L666.70,254.37 L667.50,254.36 L668.30,254.35 L669.10,254.29 L669.90,254.30 L670.70,254.27 L671.50,254.34 L672.30,254.35 L673.10,254.34 L673.90,254.36 L674.70,254.23 L675.50,254.28 L676.30,254.24 L677.10,254.35 L677.90,254.27 L678.70,254.25 L679.50,254.34 L680.30,254.33 L681.10,254.35 L681.90,254.33 L682.70,254.35 L683.50,254.23 L684.30,254.37 L685.10,254.28 L685.90,254.29 L686.70,254.31 L687.50,254.31 L688.30,254.36 L689.10,254.36 L689.90,254.23 L690.70,254.30 L691.50,254.32 L692.30,254.30 L693.10,254.36 L693.90,254.25 L694.70,254.29 L695.50,254.35 L696.30,254.24 L697.10,254.34 L697.90,254.37 L698.70,254.23 L699.50,254.23 L700.30,254.37 L701.10,254.31 L701.90,254.26 L702.70,254.26 L703.50,254.36 L704.30,254.36 L705.10,254.25 L705.90,254.72 L706.70,254.28 L707.50,254.25 L708.30,254.23 L709.10,254.23 L709.90,254.21 L710.70,254.01 L711.50,253.91 L712.30,253.82 L713.10,253.69 L713.90,253.45 L714.70,253.12 L715.50,252.84 L716.30,252.53 L717.10,252.27 L717.90,252.02 L718.70,251.88 L719.50,251.66 L720.30,252.07 L721.10,251.72 L721.90,251.91 L722.70,252.16 L723.50,252.43 L724.30,253.22 L725.10,253.07 L725.90,253.36 L726.70,253.63 L727.50,253.81 L728.30,253.89 L729.10,254.12 L729.90,254.12 L730.70,254.27 L731.50,254.21 L732.30,254.29 L733.10,254.29 L733.90,254.36 L734.70,254.31 L735.50,254.36 L736.30,254.26 L737.10,254.35 L737.90,254.35 L738.70,254.34 L739.50,254.23 L740.30,254.26 L741.10,254.30 L741.90,254.24 L742.70,254.28 L743.50,254.28 L744.30,254.26 L745.10,254.27 L745.90,254.35 L746.70,254.27 L747.50,254.35 L748.30,254.23 L749.10,254.26 L749.90,254.25 L750.70,254.31 L751.50,254.26 L752.30,254.33 L753.10,254.30 L753.90,254.36 L754.70,254.26 L755.50,254.25 L756.30,254.35 L757.10,254.34 L757.90,254.24 L758.70,254.27 L759.50,254.26 L760.30,254.27 L761.10,254.25 L761.90,254.36 L762.70,254.25 L763.50,254.29 L764.30,254.68 L765.10,254.72 L765.90,254.36 L766.70,254.31 L767.50,254.31 L768.30,254.34 L769.10,254.25 L769.90,254.33 L770.70,254.33 L771.50,254.31 L772.30,254.25 L773.10,254.27 L773.90,254.25 L774.70,254.33 L775.50,254.32 L776.30,254.24 L777.10,254.24 L777.90,254.30 L778.70,254.30 L779.50,254.35 L780.30,254.35 L781.10,254.37 L781.90,254.23 L782.70,254.25 L783.50,254.32 L784.30,254.29 L785.10,254.30 L785.90,254.24 L786.70,254.28 L787.50,254.28 L788.30,254.23 L789.10,254.28 L789.90,254.32 L790.70,254.27 L791.50,254.30 L792.30,254.23 L793.10,254.25 L793.90,254.29 L794.70,254.26 L795.50,254.27 L796.30,254.37 L797.10,254.35 L797.90,254.24 L798.70,254.29 L799.50,254.37 L800.30,254.26 L801.10,254.33 L801.90,254.33 L802.70,254.31 L803.50,254.28 L804.30,254.27 L805.10,254.23 L805.90,254.27 L806.70,254.35 L807.50,254.25 L808.30,254.32 L809.10,254.30 L809.90,254.35 L810.70,254.35 L811.50,254.37 L812.30,254.32 L813.10,254.23 L813.90,254.33 L814.70,254.35 L815.50,254.31 L816.30,254.34 L817.10,254.32 L817.90,254.33 L818.70,254.24 L819.50,254.25 L820.30,254.26 L821.10,254.35 L821.90,254.30 L822.70,254.27 L823.50,254.33 L824.30,254.24 L825.10,254.33 L825.90,254.34 L826.70,254.37 L827.50,254.29 L828.30,254.23 L829.10,254.34 L829.90,254.29 L830.70,254.27 L831.50,254.25 L832.30,254.33 L833.10,254.23 L833.90,254.27 L834.70,254.32 L835.50,254.26 L836.30,254.32 L837.10,254.32 L837.90,254.24 L838.70,254.30 L839.50,254.24 L840.30,254.32 L841.10,254.31 L841.90,254.25 L842.70,254.29 L843.50,254.29 L844.30,254.25 L845.10,254.25 L845.90,254.27 L846.70,254.30 L847.50,254.24 L848.30,254.25 L849.10,254.24 L849.90,254.27 L850.70,254.28 L851.50,254.36 L852.30,254.25 L853.10,254.34 L853.90,254.36 L854.70,254.23 L855.50,254.32 L856.30,254.36 L857.10,254.75 L857.90,254.28 L858.70,254.33 L859.50,254.31 L860.30,254.67 L861.10,254.25 L861.90,254.34 L862.70,254.32 L863.50,254.29 L864.30,254.26 L865.10,254.25 L865.90,254.71 L866.70,254.68 L867.50,254.30 L868.30,254.37 L869.10,254.27 L869.90,254.31 L870.70,254.29 L871.50,254.24 L872.30,254.25 L873.10,254.33 L873.90,254.36 L874.70,254.35 L875.50,254.27 L876.30,254.31 L877.10,254.35 L877.90,254.33 L878.70,254.26 L879.50,254.31 L880.30,254.27 L881.10,254.34 L881.90,254.27 L882.70,254.26 L883.50,254.24 L884.30,254.27 L885.10,254.76 L885.90,254.25 L886.70,254.28 L887.50,254.32 L888.30,254.28 L889.10,254.33 L889.90,254.35 L890.70,254.24" fill="none" stroke="#5a5a5a" stroke-width="0.55"/>
<path d="M656.2,262.70 L657.5,262.70" stroke="#a8a8a8" stroke-width="0.4"/>
<text x="654.90" y="263.80" font-size="3.3" fill="#808080" text-anchor="end" textLength="10.60" lengthAdjust="spacingAndGlyphs" stroke="#808080" stroke-width="0.07">20,000</text>
<path d="M656.2,271.60 L657.5,271.60" stroke="#a8a8a8" stroke-width="0.4"/>
<text x="654.90" y="272.70" font-size="3.3" fill="#808080" text-anchor="end" textLength="10.60" lengthAdjust="spacingAndGlyphs" stroke="#808080" stroke-width="0.07">10,000</text>
<path d="M656.2,280.50 L657.5,280.50" stroke="#a8a8a8" stroke-width="0.4"/>
<text x="654.90" y="281.60" font-size="3.3" fill="#808080" text-anchor="end" stroke="#808080" stroke-width="0.07">0</text>
<text x="664.20" y="270.65" font-size="3.5" fill="#555" textLength="20.20" lengthAdjust="spacingAndGlyphs" stroke="#555" stroke-width="0.07">Fraction C11</text>
<path d="M696.80,280.5 L696.80,280.49 L697.20,280.48 L697.60,280.48 L698.00,280.47 L698.40,280.47 L698.80,280.46 L699.20,280.45 L699.60,280.45 L700.00,280.43 L700.40,280.42 L700.80,280.41 L701.20,280.39 L701.60,280.37 L702.00,280.35 L702.40,280.32 L702.80,280.30 L703.20,280.26 L703.60,280.23 L704.00,280.19 L704.40,280.15 L704.80,280.10 L705.20,280.04 L705.60,279.99 L706.00,279.93 L706.40,279.86 L706.80,279.79 L707.20,279.72 L707.60,279.64 L708.00,279.55 L708.40,279.47 L708.80,279.38 L709.20,279.29 L709.60,279.20 L710.00,279.10 L710.40,279.01 L710.80,278.92 L711.20,278.83 L711.60,278.74 L712.00,278.66 L712.40,278.58 L712.80,278.50 L713.20,278.44 L713.60,278.38 L714.00,278.32 L714.40,278.28 L714.80,278.25 L715.20,278.22 L715.60,278.21 L716.00,278.20 L716.40,278.21 L716.80,278.22 L717.20,278.25 L717.60,278.28 L718.00,278.32 L718.40,278.38 L718.80,278.44 L719.20,278.50 L719.60,278.58 L720.00,278.66 L720.40,278.74 L720.80,278.83 L721.20,278.92 L721.60,279.01 L722.00,279.10 L722.40,279.20 L722.80,279.29 L723.20,279.38 L723.60,279.47 L724.00,279.55 L724.40,279.64 L724.80,279.72 L725.20,279.79 L725.60,279.86 L726.00,279.93 L726.40,279.99 L726.80,280.04 L727.20,280.10 L727.60,280.15 L728.00,280.19 L728.40,280.23 L728.80,280.26 L729.20,280.30 L729.60,280.32 L730.00,280.35 L730.40,280.37 L730.80,280.39 L731.20,280.41 L731.60,280.42 L732.00,280.43 L732.40,280.45 L732.80,280.45 L733.20,280.46 L733.60,280.47 L734.00,280.47 L734.40,280.48 L734.80,280.48 L735.20,280.49 L735.20,280.5 Z" fill="#3fb4e2"/>
<path d="M657.90,280.61 L658.70,280.66 L659.50,280.56 L660.30,280.53 L661.10,280.56 L661.90,280.55 L662.70,280.66 L663.50,280.60 L664.30,281.06 L665.10,280.54 L665.90,280.53 L666.70,280.61 L667.50,280.62 L668.30,280.55 L669.10,280.67 L669.90,280.59 L670.70,280.67 L671.50,280.56 L672.30,280.67 L673.10,280.59 L673.90,280.63 L674.70,280.54 L675.50,280.58 L676.30,280.64 L677.10,280.62 L677.90,280.59 L678.70,280.65 L679.50,280.59 L680.30,280.57 L681.10,280.66 L681.90,280.67 L682.70,280.61 L683.50,280.57 L684.30,280.58 L685.10,280.60 L685.90,280.54 L686.70,280.67 L687.50,280.53 L688.30,280.62 L689.10,280.55 L689.90,280.98 L690.70,280.66 L691.50,280.97 L692.30,280.67 L693.10,280.53 L693.90,280.57 L694.70,280.57 L695.50,280.63 L696.30,280.66 L697.10,280.64 L697.90,280.54 L698.70,280.52 L699.50,280.55 L700.30,280.48 L701.10,280.85 L701.90,280.40 L702.70,280.35 L703.50,280.32 L704.30,280.21 L705.10,280.23 L705.90,280.07 L706.70,279.98 L707.50,279.83 L708.30,279.54 L709.10,279.47 L709.90,279.27 L710.70,279.10 L711.50,278.86 L712.30,278.76 L713.10,278.50 L713.90,278.50 L714.70,278.38 L715.50,278.36 L716.30,278.23 L717.10,278.41 L717.90,278.47 L718.70,278.51 L719.50,278.67 L720.30,278.80 L721.10,278.93 L721.90,279.14 L722.70,279.32 L723.50,279.62 L724.30,279.66 L725.10,279.82 L725.90,279.94 L726.70,280.10 L727.50,280.26 L728.30,280.35 L729.10,280.40 L729.90,280.42 L730.70,280.45 L731.50,280.44 L732.30,280.58 L733.10,280.99 L733.90,280.61 L734.70,280.52 L735.50,280.55 L736.30,280.53 L737.10,280.59 L737.90,280.55 L738.70,280.58 L739.50,280.59 L740.30,280.65 L741.10,280.58 L741.90,280.53 L742.70,280.54 L743.50,280.53 L744.30,280.64 L745.10,280.96 L745.90,280.64 L746.70,280.53 L747.50,280.61 L748.30,280.57 L749.10,280.56 L749.90,281.06 L750.70,280.57 L751.50,280.64 L752.30,280.58 L753.10,280.58 L753.90,280.57 L754.70,280.67 L755.50,280.67 L756.30,280.65 L757.10,280.60 L757.90,280.57 L758.70,280.56 L759.50,280.66 L760.30,280.61 L761.10,280.61 L761.90,280.66 L762.70,280.62 L763.50,280.67 L764.30,280.64 L765.10,280.55 L765.90,281.05 L766.70,280.65 L767.50,280.65 L768.30,280.59 L769.10,280.65 L769.90,280.66 L770.70,280.62 L771.50,280.59 L772.30,281.09 L773.10,280.55 L773.90,280.53 L774.70,280.57 L775.50,280.56 L776.30,280.62 L777.10,280.66 L777.90,280.56 L778.70,280.62 L779.50,280.64 L780.30,280.64 L781.10,280.62 L781.90,280.60 L782.70,280.67 L783.50,280.55 L784.30,280.67 L785.10,280.66 L785.90,280.57 L786.70,280.66 L787.50,280.65 L788.30,280.61 L789.10,280.66 L789.90,280.60 L790.70,280.59 L791.50,280.64 L792.30,280.59 L793.10,280.53 L793.90,280.66 L794.70,280.60 L795.50,280.65 L796.30,280.64 L797.10,280.64 L797.90,280.61 L798.70,280.66 L799.50,280.63 L800.30,280.58 L801.10,280.66 L801.90,280.60 L802.70,280.67 L803.50,281.02 L804.30,280.60 L805.10,280.59 L805.90,280.60 L806.70,280.58 L807.50,280.55 L808.30,280.56 L809.10,280.62 L809.90,280.65 L810.70,280.59 L811.50,280.66 L812.30,280.67 L813.10,280.65 L813.90,280.56 L814.70,280.53 L815.50,280.99 L816.30,280.53 L817.10,280.60 L817.90,280.53 L818.70,280.53 L819.50,280.64 L820.30,280.64 L821.10,280.61 L821.90,280.53 L822.70,280.61 L823.50,280.99 L824.30,280.62 L825.10,280.97 L825.90,280.58 L826.70,280.61 L827.50,280.57 L828.30,280.64 L829.10,280.53 L829.90,280.65 L830.70,280.59 L831.50,280.67 L832.30,280.65 L833.10,280.61 L833.90,280.54 L834.70,280.55 L835.50,280.63 L836.30,280.61 L837.10,280.54 L837.90,280.67 L838.70,280.63 L839.50,280.54 L840.30,280.60 L841.10,280.55 L841.90,280.60 L842.70,280.64 L843.50,280.59 L844.30,280.54 L845.10,280.65 L845.90,280.54 L846.70,280.65 L847.50,280.64 L848.30,280.62 L849.10,280.57 L849.90,280.56 L850.70,280.60 L851.50,280.98 L852.30,280.60 L853.10,280.57 L853.90,280.65 L854.70,280.56 L855.50,280.61 L856.30,280.64 L857.10,280.53 L857.90,280.64 L858.70,280.62 L859.50,280.56 L860.30,280.64 L861.10,281.06 L861.90,280.65 L862.70,280.61 L863.50,280.59 L864.30,280.59 L865.10,280.57 L865.90,280.65 L866.70,280.67 L867.50,280.65 L868.30,280.53 L869.10,280.55 L869.90,280.58 L870.70,280.53 L871.50,280.56 L872.30,280.64 L873.10,280.58 L873.90,280.54 L874.70,281.07 L875.50,280.59 L876.30,280.63 L877.10,280.67 L877.90,280.99 L878.70,280.64 L879.50,280.57 L880.30,280.67 L881.10,280.53 L881.90,280.65 L882.70,280.60 L883.50,280.61 L884.30,280.64 L885.10,280.66 L885.90,280.66 L886.70,280.57 L887.50,280.56 L888.30,280.62 L889.10,280.65 L889.90,280.59 L890.70,280.65" fill="none" stroke="#5a5a5a" stroke-width="0.55"/>
<path d="M657.5,281.3 L890.8,281.3" stroke="#9a9a9a" stroke-width="0.9" fill="none"/>
<text x="642.40" y="203.00" font-size="3.4" fill="#808080" text-anchor="middle" textLength="21.50" lengthAdjust="spacingAndGlyphs" transform="rotate(-90 642.40 203.00)" stroke="#808080" stroke-width="0.07">Fluorescence</text>
<path d="M665.15,281.3 L665.15,282.6" stroke="#a8a8a8" stroke-width="0.4"/>
<text x="665.15" y="287.00" font-size="3.3" fill="#808080" text-anchor="middle" stroke="#808080" stroke-width="0.07">-0.1</text>
<path d="M710.00,281.3 L710.00,282.6" stroke="#a8a8a8" stroke-width="0.4"/>
<text x="710.00" y="287.00" font-size="3.3" fill="#808080" text-anchor="middle" stroke="#808080" stroke-width="0.07">0</text>
<path d="M754.85,281.3 L754.85,282.6" stroke="#a8a8a8" stroke-width="0.4"/>
<text x="754.85" y="287.00" font-size="3.3" fill="#808080" text-anchor="middle" stroke="#808080" stroke-width="0.07">0.1</text>
<path d="M799.70,281.3 L799.70,282.6" stroke="#a8a8a8" stroke-width="0.4"/>
<text x="799.70" y="287.00" font-size="3.3" fill="#808080" text-anchor="middle" stroke="#808080" stroke-width="0.07">0.2</text>
<path d="M844.55,281.3 L844.55,282.6" stroke="#a8a8a8" stroke-width="0.4"/>
<text x="844.55" y="287.00" font-size="3.3" fill="#808080" text-anchor="middle" stroke="#808080" stroke-width="0.07">0.3</text>
<path d="M889.40,281.3 L889.40,282.6" stroke="#a8a8a8" stroke-width="0.4"/>
<text x="888.80" y="287.00" font-size="3.3" fill="#808080" text-anchor="middle" stroke="#808080" stroke-width="0.07">0.4</text>
<text x="776.70" y="289.80" font-size="3.4" fill="#808080" text-anchor="middle" stroke="#808080" stroke-width="0.07">pI</text>
<text x="786.20" y="165.60" font-size="3.3" fill="#808080" textLength="24.30" lengthAdjust="spacingAndGlyphs" stroke="#808080" stroke-width="0.07">Cluster 3 (100%)</text>
<text x="768.30" y="191.60" font-size="3.3" fill="#808080" textLength="24.20" lengthAdjust="spacingAndGlyphs" stroke="#808080" stroke-width="0.07">Cluster 3 (100%)</text>
<text x="715.50" y="244.40" font-size="3.3" fill="#808080" textLength="24.00" lengthAdjust="spacingAndGlyphs" stroke="#808080" stroke-width="0.07">Cluster 1 (100%)</text>
<g fill="none" stroke="#7fd3f3" stroke-width="0.6">
<rect x="704.5" y="133.3" width="119.2" height="18.4"/>
<rect x="733.3" y="212.2" width="30.4" height="19.0"/>
<rect x="699.2" y="264.2" width="34.5" height="18.8"/>
</g>
<text x="782.90" y="139.00" font-size="6.2" fill="#303030" text-anchor="middle" stroke="#303030" stroke-width="0.04">A</text>
<text x="745.90" y="218.20" font-size="6.2" fill="#303030" text-anchor="middle" stroke="#303030" stroke-width="0.04">B</text>
<text x="715.90" y="270.20" font-size="6.2" fill="#303030" text-anchor="middle" stroke="#303030" stroke-width="0.04">C</text>
<text x="637.00" y="317.00" font-size="6.3" fill="#222" textLength="26.30" lengthAdjust="spacingAndGlyphs" stroke="#222" stroke-width="0.12">A.  LC-MS</text>
<text x="726.30" y="317.00" font-size="6.3" fill="#222" textLength="38.40" lengthAdjust="spacingAndGlyphs" stroke="#222" stroke-width="0.12">B.  Intact Mass</text>
<text x="814.20" y="317.00" font-size="6.3" fill="#222" textLength="52.80" lengthAdjust="spacingAndGlyphs" stroke="#222" stroke-width="0.12">C.  Peptide Mapping</text>
<rect x="637.0" y="320.8" width="80.7" height="130" rx="8" fill="#efefef"/>
<rect x="726.3" y="320.8" width="80.7" height="130" rx="8" fill="#efefef"/>
<rect x="814.6" y="320.8" width="80.7" height="130" rx="8" fill="#efefef"/>
<path d="M645.3,327.5 L645.3,402 L713.8,402" stroke="#9c9c9c" stroke-width="0.5" fill="none"/>
<path d="M645.3,392.70 L646.1999999999999,392.70" stroke="#9c9c9c" stroke-width="0.35"/>
<path d="M645.3,383.40 L646.1999999999999,383.40" stroke="#9c9c9c" stroke-width="0.35"/>
<path d="M645.3,374.10 L646.1999999999999,374.10" stroke="#9c9c9c" stroke-width="0.35"/>
<path d="M645.3,364.80 L646.1999999999999,364.80" stroke="#9c9c9c" stroke-width="0.35"/>
<path d="M645.3,355.50 L646.1999999999999,355.50" stroke="#9c9c9c" stroke-width="0.35"/>
<path d="M645.3,346.20 L646.1999999999999,346.20" stroke="#9c9c9c" stroke-width="0.35"/>
<path d="M645.3,336.90 L646.1999999999999,336.90" stroke="#9c9c9c" stroke-width="0.35"/>
<path d="M656.72,402 L656.72,403" stroke="#9c9c9c" stroke-width="0.35"/>
<path d="M668.13,402 L668.13,403" stroke="#9c9c9c" stroke-width="0.35"/>
<path d="M679.55,402 L679.55,403" stroke="#9c9c9c" stroke-width="0.35"/>
<path d="M690.97,402 L690.97,403" stroke="#9c9c9c" stroke-width="0.35"/>
<path d="M702.38,402 L702.38,403" stroke="#9c9c9c" stroke-width="0.35"/>
<text x="641.90" y="365.00" font-size="3.2" fill="#909090" text-anchor="middle" textLength="23.00" lengthAdjust="spacingAndGlyphs" transform="rotate(-90 641.90 365.00)" stroke="#909090" stroke-width="0.07">Fluorescence</text>
<text x="678.55" y="408.60" font-size="3.2" fill="#909090" text-anchor="middle" stroke="#909090" stroke-width="0.07">pI</text>
<path d="M645.60,397.89 L646.00,397.59 L646.40,397.85 L646.80,397.35 L647.20,397.23 L647.60,397.58 L648.00,397.07 L648.40,397.16 L648.80,396.60 L649.20,396.31 L649.60,396.08 L650.00,396.22 L650.40,396.06 L650.80,395.39 L651.20,395.19 L651.60,395.21 L652.00,394.89 L652.40,394.33 L652.80,394.36 L653.20,393.69 L653.60,393.64 L654.00,393.31 L654.40,392.86 L654.80,392.44 L655.20,391.96 L655.60,392.11 L656.00,391.30 L656.40,391.35 L656.80,391.03 L657.20,390.56 L657.60,390.34 L658.00,390.26 L658.40,389.99 L658.80,390.46 L659.20,390.41 L659.60,390.25 L660.00,390.65 L660.40,390.88 L660.80,391.00 L661.20,390.81 L661.60,390.96 L662.00,391.24 L662.40,391.26 L662.80,391.58 L663.20,392.13 L663.60,392.35 L664.00,392.33 L664.40,393.09 L664.80,393.04 L665.20,393.77 L665.60,394.21 L666.00,394.32 L666.40,395.02 L666.80,394.91 L667.20,395.38 L667.60,396.07 L668.00,396.61 L668.40,396.98 L668.80,396.96 L669.20,397.15 L669.60,397.40 L670.00,397.25 L670.00,398.59999999999997 L645.60,398.59999999999997 Z" fill="#4cc3e8" stroke="none" stroke-width="0.45" stroke-linejoin="round"/>
<path d="M686.80,395.46 L687.20,394.70 L687.60,393.60 L688.00,392.04 L688.40,390.21 L688.80,388.72 L689.20,386.40 L689.60,383.29 L690.00,380.45 L690.40,377.06 L690.80,373.42 L691.20,369.24 L691.60,364.40 L692.00,360.52 L692.40,355.89 L692.80,351.08 L693.20,346.68 L693.60,342.67 L694.00,339.40 L694.40,336.02 L694.80,333.86 L695.20,332.38 L695.60,331.33 L696.00,331.02 L696.40,331.67 L696.80,333.53 L697.20,335.65 L697.60,337.93 L698.00,341.90 L698.40,345.23 L698.80,349.71 L699.20,354.15 L699.60,358.61 L700.00,362.91 L700.40,366.89 L700.80,371.62 L701.20,375.01 L701.60,378.95 L702.00,382.27 L702.40,384.72 L702.80,387.49 L703.20,389.72 L703.60,391.35 L704.00,392.55 L704.40,393.73 L704.80,394.89 L705.20,396.02 L705.60,396.04 L706.00,396.54 L706.40,396.59 L706.80,396.71 L707.20,397.22 L707.60,396.88 L708.00,396.92 L708.40,397.33 L708.40,398.59999999999997 L686.80,398.59999999999997 Z" fill="#5877d2" stroke="none" stroke-width="0.45" stroke-linejoin="round"/>
<path d="M645.60,397.89 L646.00,397.59 L646.40,397.85 L646.80,397.35 L647.20,397.23 L647.60,397.58 L648.00,397.07 L648.40,397.16 L648.80,396.60 L649.20,396.31 L649.60,396.08 L650.00,396.22 L650.40,396.06 L650.80,395.39 L651.20,395.19 L651.60,395.21 L652.00,394.89 L652.40,394.33 L652.80,394.36 L653.20,393.69 L653.60,393.64 L654.00,393.31 L654.40,392.86 L654.80,392.44 L655.20,391.96 L655.60,392.11 L656.00,391.30 L656.40,391.35 L656.80,391.03 L657.20,390.56 L657.60,390.34 L658.00,390.26 L658.40,389.99 L658.80,390.46 L659.20,390.41 L659.60,390.25 L660.00,390.65 L660.40,390.88 L660.80,391.00 L661.20,390.81 L661.60,390.96 L662.00,391.24 L662.40,391.26 L662.80,391.58 L663.20,392.13 L663.60,392.35 L664.00,392.33 L664.40,393.09 L664.80,393.04 L665.20,393.77 L665.60,394.21 L666.00,394.32 L666.40,395.02 L666.80,394.91 L667.20,395.38 L667.60,396.07 L668.00,396.61 L668.40,396.98 L668.80,396.96 L669.20,397.15 L669.60,397.40 L670.00,397.25 L670.40,397.43 L670.80,397.27 L671.20,397.72 L671.60,397.69 L672.00,397.39 L672.40,397.23 L672.80,397.28 L673.20,396.87 L673.60,397.06 L674.00,396.87 L674.40,396.64 L674.80,396.37 L675.20,396.24 L675.60,396.45 L676.00,396.35 L676.40,395.99 L676.80,395.98 L677.20,396.22 L677.60,396.62 L678.00,396.42 L678.40,396.36 L678.80,396.66 L679.20,396.88 L679.60,396.27 L680.00,396.34 L680.40,396.90 L680.80,396.66 L681.20,396.54 L681.60,396.75 L682.00,396.90 L682.40,396.41 L682.80,396.40 L683.20,396.66 L683.60,396.93 L684.00,396.75 L684.40,396.97 L684.80,396.34 L685.20,396.91 L685.60,396.58 L686.00,395.98 L686.40,396.02 L686.80,395.46 L687.20,394.70 L687.60,393.60 L688.00,392.04 L688.40,390.21 L688.80,388.72 L689.20,386.40 L689.60,383.29 L690.00,380.45 L690.40,377.06 L690.80,373.42 L691.20,369.24 L691.60,364.40 L692.00,360.52 L692.40,355.89 L692.80,351.08 L693.20,346.68 L693.60,342.67 L694.00,339.40 L694.40,336.02 L694.80,333.86 L695.20,332.38 L695.60,331.33 L696.00,331.02 L696.40,331.67 L696.80,333.53 L697.20,335.65 L697.60,337.93 L698.00,341.90 L698.40,345.23 L698.80,349.71 L699.20,354.15 L699.60,358.61 L700.00,362.91 L700.40,366.89 L700.80,371.62 L701.20,375.01 L701.60,378.95 L702.00,382.27 L702.40,384.72 L702.80,387.49 L703.20,389.72 L703.60,391.35 L704.00,392.55 L704.40,393.73 L704.80,394.89 L705.20,396.02 L705.60,396.04 L706.00,396.54 L706.40,396.59 L706.80,396.71 L707.20,397.22 L707.60,396.88 L708.00,396.92 L708.40,397.33 L708.80,397.32 L709.20,397.40 L709.60,397.53 L710.00,397.64 L710.40,397.95 L710.80,397.97 L711.20,397.57 L711.60,397.98 L712.00,397.86 L712.40,397.70 L712.80,397.81" fill="none" stroke="#3a3a3a" stroke-width="0.4" stroke-linejoin="round"/>
<path d="M645.6,398.59999999999997 L713,398.59999999999997" stroke="#3a3a3a" stroke-width="0.35"/>
<text x="696.30" y="328.30" font-size="3.3" fill="#6e6e6e" text-anchor="middle" textLength="14.00" lengthAdjust="spacingAndGlyphs" stroke="#6e6e6e" stroke-width="0.07">Cluster 3</text>
<text x="659.50" y="379.40" font-size="3.3" fill="#6e6e6e" text-anchor="middle" textLength="14.00" lengthAdjust="spacingAndGlyphs" stroke="#6e6e6e" stroke-width="0.07">Cluster 1</text>
<text x="679.50" y="387.80" font-size="3.3" fill="#6e6e6e" text-anchor="middle" textLength="14.00" lengthAdjust="spacingAndGlyphs" stroke="#6e6e6e" stroke-width="0.07">Cluster 2</text>
<text x="645.80" y="420.00" font-size="3.9" fill="#484848" textLength="58.70" lengthAdjust="spacingAndGlyphs" stroke="#484848" stroke-width="0.06">Acquity H-Class UHPLC + Xevo</text>
<text x="645.80" y="424.93" font-size="3.9" fill="#484848" textLength="22.90" lengthAdjust="spacingAndGlyphs" stroke="#484848" stroke-width="0.06">G2-XS QTOF</text>
<text x="645.80" y="429.86" font-size="3.9" fill="#484848" textLength="60.50" lengthAdjust="spacingAndGlyphs" stroke="#484848" stroke-width="0.06">Gradient: 0.1% FA in ACN + 0.1 %</text>
<text x="645.80" y="434.79" font-size="3.9" fill="#484848" textLength="20.50" lengthAdjust="spacingAndGlyphs" stroke="#484848" stroke-width="0.06">FA in Water</text>
<path d="M734.5,327.5 L734.5,402 L803.5,402" stroke="#9c9c9c" stroke-width="0.5" fill="none"/>
<path d="M734.5,392.70 L735.4,392.70" stroke="#9c9c9c" stroke-width="0.35"/>
<path d="M734.5,383.40 L735.4,383.40" stroke="#9c9c9c" stroke-width="0.35"/>
<path d="M734.5,374.10 L735.4,374.10" stroke="#9c9c9c" stroke-width="0.35"/>
<path d="M734.5,364.80 L735.4,364.80" stroke="#9c9c9c" stroke-width="0.35"/>
<path d="M734.5,355.50 L735.4,355.50" stroke="#9c9c9c" stroke-width="0.35"/>
<path d="M734.5,346.20 L735.4,346.20" stroke="#9c9c9c" stroke-width="0.35"/>
<path d="M734.5,336.90 L735.4,336.90" stroke="#9c9c9c" stroke-width="0.35"/>
<path d="M746.00,402 L746.00,403" stroke="#9c9c9c" stroke-width="0.35"/>
<path d="M757.50,402 L757.50,403" stroke="#9c9c9c" stroke-width="0.35"/>
<path d="M769.00,402 L769.00,403" stroke="#9c9c9c" stroke-width="0.35"/>
<path d="M780.50,402 L780.50,403" stroke="#9c9c9c" stroke-width="0.35"/>
<path d="M792.00,402 L792.00,403" stroke="#9c9c9c" stroke-width="0.35"/>
<text x="731.10" y="365.00" font-size="3.2" fill="#909090" text-anchor="middle" textLength="23.00" lengthAdjust="spacingAndGlyphs" transform="rotate(-90 731.10 365.00)" stroke="#909090" stroke-width="0.07">Fluorescence</text>
<text x="771.70" y="408.60" font-size="3.2" fill="#909090" text-anchor="middle" stroke="#909090" stroke-width="0.07">pI</text>
<path d="M764.00,393.81 L764.50,390.32 L765.00,385.80 L765.50,385.39 L766.00,379.83 L766.50,372.71 L767.00,368.48 L767.50,361.30 L768.00,351.21 L768.50,349.19 L769.00,338.74 L769.50,334.98 L770.00,335.65 L770.50,332.49 L771.00,338.95 L771.50,344.19 L772.00,346.55 L772.50,353.51 L773.00,360.43 L773.50,357.15 L774.00,365.72 L774.50,364.10 L775.00,370.74 L775.50,370.86 L776.00,370.23 L776.50,371.69 L777.00,376.35 L777.50,375.22 L778.00,375.35 L778.50,379.01 L779.00,379.72 L779.50,384.13 L780.00,386.19 L780.00,390.8 L764.00,390.8 Z" fill="#c6c6c6" stroke="none" stroke-width="0.45" stroke-linejoin="round"/>
<path d="M735.00,394.76 L735.50,398.92 L736.00,398.63 L736.50,397.87 L737.00,397.04 L737.50,397.39 L738.00,395.67 L738.50,397.30 L739.00,399.38 L739.50,397.63 L740.00,399.97 L740.50,397.54 L741.00,392.10 L741.50,393.19 L742.00,393.01 L742.50,396.59 L743.00,391.08 L743.50,389.39 L744.00,389.44 L744.50,394.03 L745.00,388.48 L745.50,392.96 L746.00,392.33 L746.50,396.42 L747.00,391.91 L747.50,395.24 L748.00,397.13 L748.50,392.80 L749.00,391.21 L749.50,393.63 L750.00,392.00 L750.50,392.07 L751.00,391.76 L751.50,390.09 L752.00,395.45 L752.50,390.27 L753.00,386.72 L753.50,389.66 L754.00,388.48 L754.50,391.63 L755.00,392.75 L755.50,389.82 L756.00,391.91 L756.50,396.01 L757.00,390.87 L757.50,393.87 L758.00,388.08 L758.50,389.28 L759.00,387.50 L759.50,390.18 L760.00,388.72 L760.50,394.15 L761.00,393.28 L761.50,395.46 L762.00,395.44 L762.50,391.86 L763.00,386.54 L763.50,390.52 L764.00,393.81 L764.50,390.32 L765.00,385.80 L765.50,385.39 L766.00,379.83 L766.50,372.71 L767.00,368.48 L767.50,361.30 L768.00,351.21 L768.50,349.19 L769.00,338.74 L769.50,334.98 L770.00,335.65 L770.50,332.49 L771.00,338.95 L771.50,344.19 L772.00,346.55 L772.50,353.51 L773.00,360.43 L773.50,357.15 L774.00,365.72 L774.50,364.10 L775.00,370.74 L775.50,370.86 L776.00,370.23 L776.50,371.69 L777.00,376.35 L777.50,375.22 L778.00,375.35 L778.50,379.01 L779.00,379.72 L779.50,384.13 L780.00,386.19 L780.50,385.52 L781.00,387.44 L781.50,385.01 L782.00,392.19 L782.50,389.70 L783.00,390.10 L783.50,392.91 L784.00,390.77 L784.50,390.84 L785.00,396.23 L785.50,392.74 L786.00,395.93 L786.50,392.65 L787.00,393.89 L787.50,396.33 L788.00,390.04 L788.50,395.96 L789.00,394.79 L789.50,393.22 L790.00,392.66 L790.50,389.00 L791.00,396.29 L791.50,389.03 L792.00,391.65 L792.50,392.49 L793.00,391.18 L793.50,396.36 L794.00,393.05 L794.50,392.40 L795.00,394.30 L795.50,392.03 L796.00,392.75 L796.50,392.08 L797.00,392.33 L797.50,390.05 L798.00,386.82 L798.50,388.46 L799.00,387.41 L799.50,386.96 L800.00,393.91 L800.50,397.77 L801.00,395.59 L801.50,391.05 L802.00,390.41 L802.50,395.55 L803.00,391.11 L803.50,396.59 L804.00,395.97" fill="none" stroke="#161616" stroke-width="0.5" stroke-linejoin="round"/>
<text x="774.70" y="345.60" font-size="3.3" fill="#6e6e6e" textLength="13.80" lengthAdjust="spacingAndGlyphs" stroke="#6e6e6e" stroke-width="0.07">Cluster 2</text>
<text x="774.70" y="349.80" font-size="3.3" fill="#6e6e6e" textLength="8.00" lengthAdjust="spacingAndGlyphs" stroke="#6e6e6e" stroke-width="0.07">100%</text>
<text x="735.00" y="420.00" font-size="3.9" fill="#484848" textLength="45.00" lengthAdjust="spacingAndGlyphs" stroke="#484848" stroke-width="0.06">Sample: fractions from 1</text>
<text x="735.00" y="424.93" font-size="3.9" fill="#484848" textLength="30.80" lengthAdjust="spacingAndGlyphs" stroke="#484848" stroke-width="0.06">fractionation run</text>
<text x="735.00" y="429.86" font-size="3.9" fill="#484848" textLength="58.00" lengthAdjust="spacingAndGlyphs" stroke="#484848" stroke-width="0.06">BioResolve RP mAb Polyphenyl</text>
<text x="735.00" y="434.79" font-size="3.9" fill="#484848" textLength="39.20" lengthAdjust="spacingAndGlyphs" stroke="#484848" stroke-width="0.06">(50 × 2.1 mm, 1.7 µm)</text>
<text x="735.00" y="439.72" font-size="3.9" fill="#484848" textLength="27.50" lengthAdjust="spacingAndGlyphs" stroke="#484848" stroke-width="0.06">Injection: 16 µL</text>
<path d="M822.5,327.5 L822.5,402 L892.0,402" stroke="#9c9c9c" stroke-width="0.5" fill="none"/>
<path d="M822.5,392.70 L823.4,392.70" stroke="#9c9c9c" stroke-width="0.35"/>
<path d="M822.5,383.40 L823.4,383.40" stroke="#9c9c9c" stroke-width="0.35"/>
<path d="M822.5,374.10 L823.4,374.10" stroke="#9c9c9c" stroke-width="0.35"/>
<path d="M822.5,364.80 L823.4,364.80" stroke="#9c9c9c" stroke-width="0.35"/>
<path d="M822.5,355.50 L823.4,355.50" stroke="#9c9c9c" stroke-width="0.35"/>
<path d="M822.5,346.20 L823.4,346.20" stroke="#9c9c9c" stroke-width="0.35"/>
<path d="M822.5,336.90 L823.4,336.90" stroke="#9c9c9c" stroke-width="0.35"/>
<path d="M834.08,402 L834.08,403" stroke="#9c9c9c" stroke-width="0.35"/>
<path d="M845.67,402 L845.67,403" stroke="#9c9c9c" stroke-width="0.35"/>
<path d="M857.25,402 L857.25,403" stroke="#9c9c9c" stroke-width="0.35"/>
<path d="M868.83,402 L868.83,403" stroke="#9c9c9c" stroke-width="0.35"/>
<path d="M880.42,402 L880.42,403" stroke="#9c9c9c" stroke-width="0.35"/>
<text x="819.10" y="365.00" font-size="3.2" fill="#909090" text-anchor="middle" textLength="23.00" lengthAdjust="spacingAndGlyphs" transform="rotate(-90 819.10 365.00)" stroke="#909090" stroke-width="0.07">Fluorescence</text>
<text x="859.50" y="408.60" font-size="3.2" fill="#909090" text-anchor="middle" stroke="#909090" stroke-width="0.07">pI</text>
<path d="M826.00,393.91 L826.50,390.54 L827.00,388.66 L827.50,386.97 L828.00,383.83 L828.50,381.40 L829.00,379.49 L829.50,376.86 L830.00,373.96 L830.50,372.17 L831.00,369.40 L831.50,367.06 L832.00,364.40 L832.50,362.34 L833.00,359.59 L833.50,356.77 L834.00,354.77 L834.50,352.41 L835.00,349.72 L835.50,347.56 L836.00,345.06 L836.50,342.78 L837.00,340.74 L837.50,338.57 L838.00,336.06 L838.50,334.35 L839.00,333.60 L839.50,333.08 L840.00,333.20 L840.50,334.23 L841.00,335.61 L841.50,337.69 L842.00,339.25 L842.50,341.29 L843.00,344.20 L843.50,346.57 L844.00,349.10 L844.50,351.10 L845.00,353.24 L845.50,355.72 L846.00,358.20 L846.50,360.97 L847.00,363.28 L847.50,366.11 L848.00,368.45 L848.50,370.67 L849.00,373.19 L849.50,376.23 L850.00,378.75 L850.50,380.80 L851.00,383.39 L851.50,385.89 L852.00,388.70 L852.50,389.38 L852.50,396.4 L826.00,396.4 Z" fill="#52c6ea" stroke="none" stroke-width="0.45" stroke-linejoin="round"/>
<path d="M823.00,392.16 L823.50,391.68 L824.00,394.68 L824.50,392.54 L825.00,393.12 L825.50,395.36 L826.00,393.91 L826.50,390.54 L827.00,388.66 L827.50,386.97 L828.00,383.83 L828.50,381.40 L829.00,379.49 L829.50,376.86 L830.00,373.96 L830.50,372.17 L831.00,369.40 L831.50,367.06 L832.00,364.40 L832.50,362.34 L833.00,359.59 L833.50,356.77 L834.00,354.77 L834.50,352.41 L835.00,349.72 L835.50,347.56 L836.00,345.06 L836.50,342.78 L837.00,340.74 L837.50,338.57 L838.00,336.06 L838.50,334.35 L839.00,333.60 L839.50,333.08 L840.00,333.20 L840.50,334.23 L841.00,335.61 L841.50,337.69 L842.00,339.25 L842.50,341.29 L843.00,344.20 L843.50,346.57 L844.00,349.10 L844.50,351.10 L845.00,353.24 L845.50,355.72 L846.00,358.20 L846.50,360.97 L847.00,363.28 L847.50,366.11 L848.00,368.45 L848.50,370.67 L849.00,373.19 L849.50,376.23 L850.00,378.75 L850.50,380.80 L851.00,383.39 L851.50,385.89 L852.00,388.70 L852.50,389.38 L853.00,392.66 L853.50,394.65 L854.00,396.75 L854.50,395.60 L855.00,395.59 L855.50,394.95 L856.00,392.86 L856.50,393.15 L857.00,394.02 L857.50,394.57 L858.00,395.79 L858.50,395.23 L859.00,392.64 L859.50,394.22 L860.00,393.52 L860.50,392.58 L861.00,394.93 L861.50,394.61 L862.00,394.86 L862.50,395.59 L863.00,395.99 L863.50,394.34 L864.00,394.41 L864.50,393.00 L865.00,394.01 L865.50,393.74 L866.00,394.44 L866.50,396.27 L867.00,393.96 L867.50,394.00 L868.00,392.50 L868.50,393.83 L869.00,393.20 L869.50,394.79 L870.00,394.07 L870.50,395.70 L871.00,397.72 L871.50,394.53 L872.00,395.83 L872.50,395.05 L873.00,392.79 L873.50,392.36 L874.00,394.35 L874.50,396.31 L875.00,395.64 L875.50,395.20 L876.00,396.39 L876.50,394.99 L877.00,394.95 L877.50,394.42 L878.00,391.65 L878.50,393.30 L879.00,393.54 L879.50,395.93 L880.00,396.51 L880.50,397.06 L881.00,395.22 L881.50,393.58 L882.00,395.26 L882.50,394.06 L883.00,394.93 L883.50,394.77 L884.00,391.37 L884.50,392.00 L885.00,391.45 L885.50,391.42 L886.00,391.09 L886.50,393.15 L887.00,392.53 L887.50,395.02 L888.00,392.64 L888.50,391.36 L889.00,392.86 L889.50,395.89 L890.00,396.46 L890.50,395.07 L891.00,395.93 L891.50,395.46" fill="none" stroke="#2c2c2c" stroke-width="0.42" stroke-linejoin="round"/>
<text x="839.70" y="329.10" font-size="3.3" fill="#6e6e6e" text-anchor="middle" textLength="13.60" lengthAdjust="spacingAndGlyphs" stroke="#6e6e6e" stroke-width="0.07">Cluster 1</text>
<path d="M839.7,330.3 L839.7,331.6" stroke="#888" stroke-width="0.35"/>
<text x="847.80" y="345.60" font-size="3.3" fill="#6e6e6e" textLength="13.80" lengthAdjust="spacingAndGlyphs" stroke="#6e6e6e" stroke-width="0.07">Cluster 1</text>
<text x="847.80" y="349.80" font-size="3.3" fill="#6e6e6e" textLength="8.00" lengthAdjust="spacingAndGlyphs" stroke="#6e6e6e" stroke-width="0.07">100%</text>
<text x="863.70" y="389.40" font-size="3.3" fill="#6e6e6e" text-anchor="middle" textLength="13.60" lengthAdjust="spacingAndGlyphs" stroke="#6e6e6e" stroke-width="0.07">Cluster 2</text>
<text x="886.50" y="389.40" font-size="3.3" fill="#6e6e6e" text-anchor="middle" textLength="13.60" lengthAdjust="spacingAndGlyphs" stroke="#6e6e6e" stroke-width="0.07">Cluster 3</text>
<text x="823.00" y="420.00" font-size="3.9" fill="#484848" textLength="64.20" lengthAdjust="spacingAndGlyphs" stroke="#484848" stroke-width="0.06">Sample: combined samples from 4</text>
<text x="823.00" y="424.93" font-size="3.9" fill="#484848" textLength="32.80" lengthAdjust="spacingAndGlyphs" stroke="#484848" stroke-width="0.06">fractionation runs</text>
<text x="823.00" y="429.86" font-size="3.9" fill="#484848" textLength="54.00" lengthAdjust="spacingAndGlyphs" stroke="#484848" stroke-width="0.06">Digestion: RapiZyme Trypsin,</text>
<text x="823.00" y="434.79" font-size="3.9" fill="#484848" textLength="62.00" lengthAdjust="spacingAndGlyphs" stroke="#484848" stroke-width="0.06">PREMIER BEH C18  (100 × 2.1 mm,</text>
<text x="823.00" y="439.72" font-size="3.9" fill="#484848" textLength="12.80" lengthAdjust="spacingAndGlyphs" stroke="#484848" stroke-width="0.06">1.7 µm)</text>
<text x="823.00" y="444.65" font-size="3.9" fill="#484848" textLength="28.70" lengthAdjust="spacingAndGlyphs" stroke="#484848" stroke-width="0.06">Injection: 38 µL</text>
<text x="639.20" y="460.50" font-size="3.9" fill="#4c4c4c" textLength="239.50" lengthAdjust="spacingAndGlyphs" stroke="#4c4c4c" stroke-width="0.035">Figure 04. Representative electropherograms of an antibody collected after fractionation and verified with analytical icIEF on the</text>
<text x="639.20" y="465.60" font-size="3.9" fill="#4c4c4c" textLength="245.00" lengthAdjust="spacingAndGlyphs" stroke="#4c4c4c" stroke-width="0.035">MauriceFlex system. Fractions were analyzed using an array of characterization methods. Data referenced from T. Menneteau, et al,</text>
<text x="639.20" y="470.70" font-size="3.9" fill="#4c4c4c" textLength="252.00" lengthAdjust="spacingAndGlyphs" stroke="#4c4c4c" stroke-width="0.035">“Therapeutic Protein Charge Variant Characterization with Intact Mass and Peptide Mapping Following Microgram Preparative Capillary</text>
<text x="639.20" y="475.80" font-size="3.9" fill="#4c4c4c" textLength="253.80" lengthAdjust="spacingAndGlyphs" stroke="#4c4c4c" stroke-width="0.035">Isoelectric Focusing Electrophoresis Fractionation”, 72nd Conference on Mass Spectrometry and Allied Topics, Anaheim, CA, USA, June</text>
<text x="639.20" y="480.90" font-size="3.9" fill="#4c4c4c" textLength="37.50" lengthAdjust="spacingAndGlyphs" stroke="#4c4c4c" stroke-width="0.035">2024, Poster TP635.</text>
<text x="906.60" y="493.20" font-size="5.4" fill="#262626" font-weight="bold" textLength="7.30" lengthAdjust="spacing" stroke="#262626" stroke-width="0.12">09</text>
</g>
</svg>
</body></html>
